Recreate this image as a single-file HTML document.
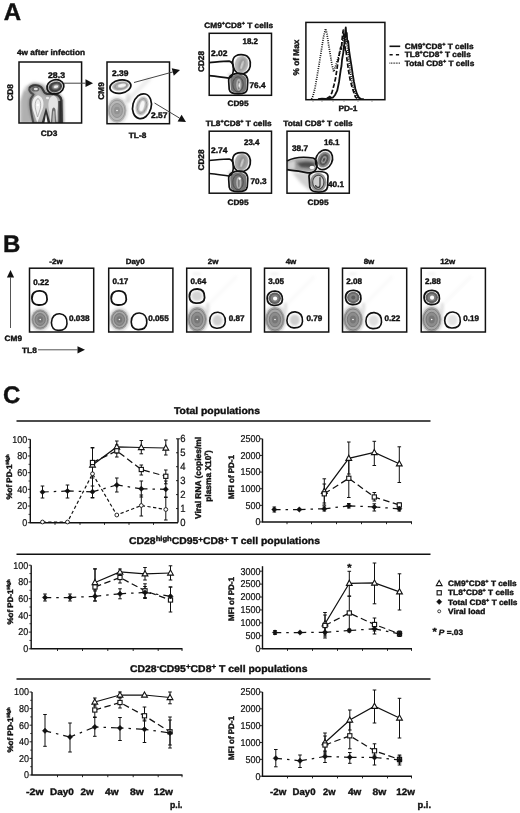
<!DOCTYPE html>
<html lang="en"><head><meta charset="utf-8"><title>Figure</title>
<style>html,body{margin:0;padding:0;background:#fff;}svg{display:block;font-family:'Liberation Sans', Arial, Helvetica, sans-serif;text-rendering:geometricPrecision;}</style></head><body>
<svg width="520" height="813" viewBox="0 0 520 813">
<defs>
<filter id="b05" x="-50%" y="-50%" width="200%" height="200%"><feGaussianBlur stdDeviation="0.5"/></filter>
<filter id="b1" x="-50%" y="-50%" width="200%" height="200%"><feGaussianBlur stdDeviation="1"/></filter>
<filter id="b2" x="-50%" y="-50%" width="200%" height="200%"><feGaussianBlur stdDeviation="1.8"/></filter>
<filter id="b3" x="-50%" y="-50%" width="200%" height="200%"><feGaussianBlur stdDeviation="3"/></filter>
</defs>
<rect x="0" y="0" width="520" height="813" fill="#fff"/>
<text xml:space="preserve" x="3.7" y="20" font-size="24" font-weight="bold" text-anchor="start" fill="#111" stroke="#111" stroke-width="0.4">A</text>
<text xml:space="preserve" x="0" y="0" font-size="8.3" font-weight="bold" text-anchor="start" fill="#111" stroke="#111" stroke-width="0.4" transform="translate(17 55.3) scale(1 0.94)" textLength="68" lengthAdjust="spacingAndGlyphs">4w after infection</text>
<clipPath id="c1"><rect x="19" y="62" width="62.599999999999994" height="61"/></clipPath>
<g clip-path="url(#c1)">
<path d="M21 123 L21.5 98 L25 87 L33 82.5 L44 84 L50 90 L58 93 L63.5 99 L64 123 Z" fill="#999" opacity="0.55" filter="url(#b2)"/>
<path d="M20 123 L20 102 L24 90 L30 94 L30 123 Z" fill="#999" opacity="0.5" filter="url(#b1)"/>
<path d="M33.5 123.5 C31.5 115 29.5 106 30.5 100 C31 97 33 96 33.5 94.5 C31 93 28.5 91 29.5 88 C31 84.8 38 84.3 41 87 C43 89 43.5 91.5 45 93 C47 94.5 50 94 52 94 C57 94 60.5 96 61.3 100 L61.8 123.5 Z" fill="#b4b4b4" stroke="#4a4a4a" stroke-width="2" stroke-linejoin="round" filter="url(#b05)"/>
<path d="M45 93 C47 94.5 50 94 52 94 C57 94 60.5 96 61.3 100 L61.8 123.5" fill="none" stroke="#222" stroke-width="2" filter="url(#b05)"/>
<path d="M29.5 88 C31 84.8 38 84.3 41 87 C43 89 43.5 91.5 45 93" fill="none" stroke="#222" stroke-width="1.6" filter="url(#b05)"/>
<path d="M33.5 123.5 C31.5 115 29.5 106 30.5 100 C31 97 33 96 33.5 94.5 C31 93 28.5 91 29.5 88 C31 84.8 38 84.3 41 87 C43 89 43.5 91.5 45 93 C47 94.5 50 94 52 94 C57 94 60.5 96 61.3 100 L61.8 123.5 Z" fill="none" stroke="#555" stroke-width="3.5" opacity="0.5" filter="url(#b1)"/>
<ellipse cx="35.3" cy="89" rx="4" ry="2.6" fill="#555" opacity="0.8" filter="url(#b05)"/>
<ellipse cx="35.8" cy="89" rx="2" ry="1.2" fill="#e8e8e8" opacity="0.95" filter="url(#b05)"/>
<path d="M38 95.3 C31.8 97 31 105 33.6 112 L37.3 122.5 L41.4 112 C45 105 44 97 38 95.3 Z" fill="#f2f2f2" opacity="0.95" filter="url(#b05)"/>
<path d="M38 98.5 C35 100 34.5 106 36 111 L37.5 117 L39.5 111 C41.5 106 41 100 38 98.5 Z" fill="none" stroke="#999" stroke-width="0.7" filter="url(#b05)"/>
<circle cx="37.8" cy="105" r="1.3" fill="#fff"/>
<path d="M53.5 95.5 C48 97 47.5 105 49.5 112 L50.5 123 L56 123 L57 112 C58.5 104 58.5 97 53.5 95.5 Z" fill="#e6e6e6" opacity="0.95" filter="url(#b05)"/>
<path d="M50.8 123.5 L52 110 C52.5 106.5 55 106.5 55.5 110 L56.2 123.5 Z" fill="#444" opacity="0.75" filter="url(#b05)"/>
<path d="M52.2 123.5 L53 112 C53.3 110 54.2 110 54.5 112 L55 123.5 Z" fill="#ccc" opacity="0.8" filter="url(#b05)"/>
<path d="M41.5 123.5 L46 107.5 L50.5 123.5 Z" fill="#222" opacity="0.9" filter="url(#b05)"/>
<path d="M44.3 123.5 L46 114 L47.8 123.5 Z" fill="#fff" opacity="0.95"/>
<path d="M58.3 123.5 L58.3 101 L61 101 L61.3 123.5 Z" fill="#222" opacity="0.8" filter="url(#b05)"/>
<ellipse cx="47.5" cy="98" rx="1.6" ry="1.2" fill="#eee" opacity="0.9"/>
<ellipse cx="55.4" cy="86.8" rx="7" ry="5.4" fill="#2a2a2a" opacity="0.9" filter="url(#b05)" transform="rotate(-15 55.4 86.8)"/>
<ellipse cx="55.8" cy="86.8" rx="4.2" ry="3" fill="#777" opacity="0.95" filter="url(#b05)" transform="rotate(-15 55.4 86.8)"/>
<ellipse cx="56" cy="86.8" rx="2.6" ry="1.6" fill="#f4f4f4" opacity="0.95" filter="url(#b05)" transform="rotate(-15 55.4 86.8)"/>
</g>
<rect x="19" y="62" width="62.599999999999994" height="61" fill="none" stroke="#111" stroke-width="1.5"/>
<ellipse cx="55.4" cy="86.8" rx="8.6" ry="7" fill="none" stroke="#111" stroke-width="1.7" transform="rotate(-15 55.4 86.8)"/>
<text xml:space="preserve" x="0" y="0" font-size="8.6" font-weight="bold" text-anchor="start" fill="#111" stroke="#111" stroke-width="0.4" transform="translate(48 77.5) scale(1 0.94)" textLength="17" lengthAdjust="spacingAndGlyphs">28.3</text>
<text xml:space="preserve" x="13" y="92.5" font-size="8.3" font-weight="bold" text-anchor="middle" fill="#111" stroke="#111" stroke-width="0.4" transform="rotate(-90 13 92.5)">CD8</text>
<text xml:space="preserve" x="0" y="0" font-size="8.3" font-weight="bold" text-anchor="middle" fill="#111" stroke="#111" stroke-width="0.4" transform="translate(49 136) scale(1 0.94)">CD3</text>
<line x1="64" y1="83.2" x2="85.50" y2="83.20" stroke="#444" stroke-width="1"/>
<polygon points="93.00,83.20 85.50,87.10 85.50,79.30" fill="#111"/>
<clipPath id="c2"><rect x="107" y="62" width="62.5" height="61.7"/></clipPath>
<g clip-path="url(#c2)">
<g opacity="0.8">
<ellipse cx="117" cy="110.5" rx="11.20" ry="14.00" fill="#bbb" opacity="0.55" filter="url(#b1)" transform="rotate(0 117 110.5)"/>
<ellipse cx="117" cy="110.5" rx="9.50" ry="12.16" fill="#a6a6a6" filter="url(#b05)" transform="rotate(0 117 110.5)"/>
<ellipse cx="117" cy="110.5" rx="8.00" ry="10.24" fill="none" stroke="#7a7a7a" stroke-width="0.9" filter="url(#b05)" transform="rotate(0 117 110.5)"/>
<ellipse cx="117" cy="110.5" rx="5.50" ry="7.04" fill="#8c8c8c" stroke="#6a6a6a" stroke-width="0.7" filter="url(#b05)" transform="rotate(0 117 110.5)"/>
<ellipse cx="117" cy="110.5" rx="3.00" ry="3.84" fill="#777" filter="url(#b05)" transform="rotate(0 117 110.5)"/>
<ellipse cx="117" cy="110.5" rx="0.8" ry="0.8" fill="#fff" opacity="0.95"/>
</g>
<ellipse cx="120.5" cy="86" rx="8.5" ry="4.6" fill="#999" opacity="0.75" filter="url(#b05)" transform="rotate(-10 120.5 86)"/>
<ellipse cx="121" cy="86" rx="6.2" ry="3" fill="none" stroke="#777" stroke-width="0.7" filter="url(#b05)" transform="rotate(-10 120.5 86)"/>
<ellipse cx="122" cy="85.8" rx="4" ry="1.8" fill="#fafafa" opacity="0.95" filter="url(#b05)" transform="rotate(-10 120.5 86)"/>
<ellipse cx="142" cy="106" rx="6.2" ry="9.8" fill="#aaa" opacity="0.7" filter="url(#b05)" transform="rotate(15 142 106)"/>
<ellipse cx="142" cy="106" rx="4.3" ry="7.5" fill="none" stroke="#777" stroke-width="0.7" filter="url(#b05)" transform="rotate(15 142 106)"/>
<ellipse cx="142" cy="106" rx="2.2" ry="5.2" fill="#fafafa" opacity="0.95" filter="url(#b05)" transform="rotate(15 142 106)"/>
<line x1="126" y1="102" x2="150" y2="78" stroke="#aaa" stroke-width="4" opacity="0.22" filter="url(#b2)"/>
<ellipse cx="128" cy="98" rx="2.5" ry="5" fill="#aaa" opacity="0.3" filter="url(#b1)"/>
</g>
<rect x="107" y="62" width="62.5" height="61.7" fill="none" stroke="#111" stroke-width="1.5"/>
<ellipse cx="120.4" cy="86.6" rx="10.6" ry="6.6" fill="none" stroke="#111" stroke-width="1.7" transform="rotate(-10 120.4 86.6)"/>
<ellipse cx="142" cy="106.2" rx="9.2" ry="12.6" fill="none" stroke="#111" stroke-width="1.7" transform="rotate(15 142 106.2)"/>
<text xml:space="preserve" x="0" y="0" font-size="8.6" font-weight="bold" text-anchor="start" fill="#111" stroke="#111" stroke-width="0.4" transform="translate(112 75.5) scale(1 0.94)" textLength="16.5" lengthAdjust="spacingAndGlyphs">2.39</text>
<text xml:space="preserve" x="0" y="0" font-size="8.6" font-weight="bold" text-anchor="start" fill="#111" stroke="#111" stroke-width="0.4" transform="translate(151 118) scale(1 0.94)" textLength="16.5" lengthAdjust="spacingAndGlyphs">2.57</text>
<text xml:space="preserve" x="103.5" y="91" font-size="8.3" font-weight="bold" text-anchor="middle" fill="#111" stroke="#111" stroke-width="0.4" transform="rotate(-90 103.5 91)">CM9</text>
<text xml:space="preserve" x="0" y="0" font-size="8.3" font-weight="bold" text-anchor="middle" fill="#111" stroke="#111" stroke-width="0.4" transform="translate(137.5 137.5) scale(1 0.94)">TL-8</text>
<line x1="134" y1="82.5" x2="172.76" y2="71.97" stroke="#444" stroke-width="1"/>
<polygon points="180.00,70.00 173.79,75.73 171.74,68.20" fill="#111"/>
<line x1="154.5" y1="103" x2="179.58" y2="118.13" stroke="#444" stroke-width="1"/>
<polygon points="186.00,122.00 177.56,121.47 181.59,114.79" fill="#111"/>
<clipPath id="c3"><rect x="209.2" y="33.3" width="62.30000000000001" height="62.0"/></clipPath>
<g clip-path="url(#c3)">
<ellipse cx="241.5" cy="64.3" rx="6.8" ry="8.6" fill="#b0b0b0" opacity="0.9" filter="url(#b05)" transform="rotate(12 241.5 64.3)"/>
<ellipse cx="242.0" cy="64.3" rx="3.4" ry="6.6" fill="#777" opacity="0.6" filter="url(#b1)" transform="rotate(18 241.5 64.3)"/>
<ellipse cx="242.3" cy="64.8" rx="1.2" ry="4.5" fill="#ddd" opacity="0.8" filter="url(#b05)" transform="rotate(18 241.5 64.3)"/>
<path d="M230.2 80.3 C230.2 75.8 234.2 74.8 238.7 74.8 C243.2 74.8 246.7 76.3 246.39999999999998 81.3 L246.0 89.3 C245.2 94.3 231.7 94.3 230.7 89.3 Z" fill="#6e6e6e" opacity="0.95" filter="url(#b05)"/>
<ellipse cx="238.0" cy="84.3" rx="5.2" ry="7.5" fill="none" stroke="#444" stroke-width="1" opacity="0.8" filter="url(#b05)"/>
<ellipse cx="238.8" cy="84.8" rx="2.6" ry="6" fill="#b8b8b8" opacity="0.9" filter="url(#b05)"/>
<ellipse cx="238.8" cy="85.3" rx="0.9" ry="4.2" fill="#777" opacity="0.9" filter="url(#b05)"/>
<ellipse cx="239.2" cy="85.3" rx="0.7" ry="2.5" fill="#f4f4f4"/>
<ellipse cx="230.2" cy="75.3" rx="2.5" ry="2.5" fill="#999" opacity="0.3" filter="url(#b1)"/>
</g>
<rect x="209.2" y="33.3" width="62.30000000000001" height="62.0" fill="none" stroke="#111" stroke-width="1.5"/>
<path d="M209.2 62.599999999999994 C217.2 61.9 224.2 61.099999999999994 229.2 61.099999999999994 C232.7 61.8 233.7 66.3 233.2 71.3 C232.7 75.3 231.2 77.8 228.7 78.1 C222.2 77.3 216.2 76.3 209.2 75.6" fill="none" stroke="#111" stroke-width="1.6"/>
<path d="M232.7 63.3 C232.2 55.3 238.2 54.3 243.2 54.8 C249.2 55.3 251.2 61.3 250.2 66.3 C249.2 71.3 245.2 73.8 240.2 73.8 C235.2 73.3 233.2 69.3 232.7 63.3 Z" fill="none" stroke="#111" stroke-width="1.7"/>
<path d="M228.7 81.3 C228.2 75.3 233.2 73.3 239.2 73.3 C245.2 73.3 248.2 76.3 247.7 82.3 L247.2 89.3 C246.2 95.3 230.2 95.3 229.2 89.3 Z" fill="none" stroke="#111" stroke-width="1.7"/>
<text xml:space="preserve" x="0" y="0" font-size="8.3" font-weight="bold" text-anchor="middle" fill="#111" stroke="#111" stroke-width="0.4" transform="translate(238.7 28) scale(1 0.94)">CM9<tspan dy="-3" font-size="5.5">+</tspan><tspan dy="3">CD8</tspan><tspan dy="-3" font-size="5.5">+</tspan><tspan dy="3"> T cells</tspan></text>
<text xml:space="preserve" x="0" y="0" font-size="8.6" font-weight="bold" text-anchor="start" fill="#111" stroke="#111" stroke-width="0.4" transform="translate(242.5 44) scale(1 0.94)" textLength="15.5" lengthAdjust="spacingAndGlyphs">18.2</text>
<text xml:space="preserve" x="0" y="0" font-size="8.6" font-weight="bold" text-anchor="start" fill="#111" stroke="#111" stroke-width="0.4" transform="translate(211 56) scale(1 0.94)" textLength="16.5" lengthAdjust="spacingAndGlyphs">2.02</text>
<text xml:space="preserve" x="0" y="0" font-size="8.6" font-weight="bold" text-anchor="start" fill="#111" stroke="#111" stroke-width="0.4" transform="translate(249.5 88) scale(1 0.94)" textLength="16" lengthAdjust="spacingAndGlyphs">76.4</text>
<text xml:space="preserve" x="204" y="61.5" font-size="8.3" font-weight="bold" text-anchor="middle" fill="#111" stroke="#111" stroke-width="0.4" transform="rotate(-90 204 61.5)">CD28</text>
<text xml:space="preserve" x="0" y="0" font-size="8.3" font-weight="bold" text-anchor="middle" fill="#111" stroke="#111" stroke-width="0.4" transform="translate(238 106) scale(1 0.94)">CD95</text>
<clipPath id="c4"><rect x="209.2" y="131.2" width="62.30000000000001" height="62.0"/></clipPath>
<g clip-path="url(#c4)">
<ellipse cx="241.5" cy="162.2" rx="6.8" ry="8.6" fill="#a0a0a0" opacity="0.9" filter="url(#b05)" transform="rotate(12 241.5 162.2)"/>
<ellipse cx="242.0" cy="162.2" rx="3.4" ry="6.6" fill="#777" opacity="0.6" filter="url(#b1)" transform="rotate(18 241.5 162.2)"/>
<ellipse cx="242.3" cy="162.7" rx="1.2" ry="4.5" fill="#ddd" opacity="0.8" filter="url(#b05)" transform="rotate(18 241.5 162.2)"/>
<path d="M230.2 178.2 C230.2 173.7 234.2 172.7 238.7 172.7 C243.2 172.7 246.7 174.2 246.39999999999998 179.2 L246.0 187.2 C245.2 192.2 231.7 192.2 230.7 187.2 Z" fill="#6e6e6e" opacity="0.95" filter="url(#b05)"/>
<ellipse cx="238.0" cy="182.2" rx="5.2" ry="7.5" fill="none" stroke="#444" stroke-width="1" opacity="0.8" filter="url(#b05)"/>
<ellipse cx="238.8" cy="182.7" rx="2.6" ry="6" fill="#b8b8b8" opacity="0.9" filter="url(#b05)"/>
<ellipse cx="238.8" cy="183.2" rx="0.9" ry="4.2" fill="#777" opacity="0.9" filter="url(#b05)"/>
<circle cx="239.7" cy="178.7" r="1.1" fill="#fff"/>
<ellipse cx="230.2" cy="173.2" rx="2.5" ry="2.5" fill="#999" opacity="0.3" filter="url(#b1)"/>
</g>
<rect x="209.2" y="131.2" width="62.30000000000001" height="62.0" fill="none" stroke="#111" stroke-width="1.5"/>
<path d="M209.2 160.5 C217.2 159.79999999999998 224.2 159.0 229.2 159.0 C232.7 159.7 233.7 164.2 233.2 169.2 C232.7 173.2 231.2 175.7 228.7 176.0 C222.2 175.2 216.2 174.2 209.2 173.5" fill="none" stroke="#111" stroke-width="1.6"/>
<path d="M232.7 161.2 C232.2 153.2 238.2 152.2 243.2 152.7 C249.2 153.2 251.2 159.2 250.2 164.2 C249.2 169.2 245.2 171.7 240.2 171.7 C235.2 171.2 233.2 167.2 232.7 161.2 Z" fill="none" stroke="#111" stroke-width="1.7"/>
<path d="M228.7 179.2 C228.2 173.2 233.2 171.2 239.2 171.2 C245.2 171.2 248.2 174.2 247.7 180.2 L247.2 187.2 C246.2 193.2 230.2 193.2 229.2 187.2 Z" fill="none" stroke="#111" stroke-width="1.7"/>
<text xml:space="preserve" x="0" y="0" font-size="8.3" font-weight="bold" text-anchor="middle" fill="#111" stroke="#111" stroke-width="0.4" transform="translate(238.7 125.5) scale(1 0.94)">TL8<tspan dy="-3" font-size="5.5">+</tspan><tspan dy="3">CD8</tspan><tspan dy="-3" font-size="5.5">+</tspan><tspan dy="3"> T cells</tspan></text>
<text xml:space="preserve" x="0" y="0" font-size="8.6" font-weight="bold" text-anchor="start" fill="#111" stroke="#111" stroke-width="0.4" transform="translate(244 144.5) scale(1 0.94)" textLength="15.5" lengthAdjust="spacingAndGlyphs">23.4</text>
<text xml:space="preserve" x="0" y="0" font-size="8.6" font-weight="bold" text-anchor="start" fill="#111" stroke="#111" stroke-width="0.4" transform="translate(211 153) scale(1 0.94)" textLength="16.5" lengthAdjust="spacingAndGlyphs">2.74</text>
<text xml:space="preserve" x="0" y="0" font-size="8.6" font-weight="bold" text-anchor="start" fill="#111" stroke="#111" stroke-width="0.4" transform="translate(250.5 184) scale(1 0.94)" textLength="16" lengthAdjust="spacingAndGlyphs">70.3</text>
<text xml:space="preserve" x="204" y="160" font-size="8.3" font-weight="bold" text-anchor="middle" fill="#111" stroke="#111" stroke-width="0.4" transform="rotate(-90 204 160)">CD28</text>
<text xml:space="preserve" x="0" y="0" font-size="8.3" font-weight="bold" text-anchor="middle" fill="#111" stroke="#111" stroke-width="0.4" transform="translate(238 204.5) scale(1 0.94)">CD95</text>
<clipPath id="c5"><rect x="287" y="131.2" width="62.30000000000001" height="62.0"/></clipPath>
<g clip-path="url(#c5)">
<path d="M287 161.2 C297 157.2 309 157.2 315 159.2 L316 169.2 L309 172.2 L287 169.7 Z" fill="#8a8a8a" opacity="0.8" filter="url(#b1)"/>
<path d="M297 163.2 C303 161.2 311 161.2 315 163.2 L314 168.2 L301 167.2 Z" fill="#333" opacity="0.75" filter="url(#b1)"/>
<path d="M288 162.2 L295 160.2 L295 169.2 L288 169.2 Z" fill="#fff" opacity="0.55" filter="url(#b1)"/>
<path d="M292 172.2 L312 173.2 L310 191.2 L301 183.2 Z" fill="#999" opacity="0.45" filter="url(#b2)"/>
<ellipse cx="312" cy="167.5" rx="2.4" ry="1.7" fill="#fff" opacity="0.95" filter="url(#b05)"/>
<ellipse cx="324" cy="159.7" rx="6.3" ry="8.3" fill="#777" opacity="0.9" filter="url(#b05)" transform="rotate(25 324 159.7)"/>
<ellipse cx="324" cy="159.7" rx="4" ry="6" fill="#444" opacity="0.85" filter="url(#b05)" transform="rotate(25 324 159.7)"/>
<ellipse cx="324" cy="159.7" rx="2.2" ry="4" fill="#aaa" opacity="0.9" filter="url(#b05)" transform="rotate(25 324 159.7)"/>
<ellipse cx="324" cy="159.7" rx="0.9" ry="2.2" fill="#333" opacity="0.9" filter="url(#b05)" transform="rotate(25 324 159.7)"/>
<ellipse cx="318.3" cy="182.2" rx="8" ry="9.5" fill="#8a8a8a" opacity="0.9" filter="url(#b05)"/>
<ellipse cx="318.3" cy="182.2" rx="5.6" ry="7" fill="#d0d0d0" stroke="#444" stroke-width="1.1" opacity="0.95" filter="url(#b05)"/>
<path d="M320 177.2 L320 185.2 C320 188.2 316 188.2 315.5 185.2" fill="none" stroke="#333" stroke-width="1.2" filter="url(#b05)"/>
</g>
<rect x="287" y="131.2" width="62.30000000000001" height="62.0" fill="none" stroke="#111" stroke-width="1.5"/>
<path d="M287 161.0 C293 157.7 303 156.5 313 158.0 C317 159.2 318 165.2 316 169.2 C314 172.7 311 173.2 308 172.79999999999998 C301 171.7 294 170.5 287 169.7" fill="none" stroke="#111" stroke-width="1.7"/>
<ellipse cx="324" cy="159.79999999999998" rx="8.2" ry="10.2" fill="none" stroke="#111" stroke-width="1.7" transform="rotate(25 324 159.79999999999998)"/>
<path d="M309 176.2 C309 170.2 327.5 169.7 328 176.2 L327.5 187.2 C326.5 193.7 311 193.7 309.8 187.2 Z" fill="none" stroke="#111" stroke-width="1.7"/>
<text xml:space="preserve" x="0" y="0" font-size="8.3" font-weight="bold" text-anchor="middle" fill="#111" stroke="#111" stroke-width="0.4" transform="translate(318 125.5) scale(1 0.94)">Total CD8<tspan dy="-3" font-size="5.5">+</tspan><tspan dy="3"> T cells</tspan></text>
<text xml:space="preserve" x="0" y="0" font-size="8.6" font-weight="bold" text-anchor="start" fill="#111" stroke="#111" stroke-width="0.4" transform="translate(292 151) scale(1 0.94)" textLength="16" lengthAdjust="spacingAndGlyphs">38.7</text>
<text xml:space="preserve" x="0" y="0" font-size="8.6" font-weight="bold" text-anchor="start" fill="#111" stroke="#111" stroke-width="0.4" transform="translate(324 145) scale(1 0.94)" textLength="15.5" lengthAdjust="spacingAndGlyphs">16.1</text>
<text xml:space="preserve" x="0" y="0" font-size="8.6" font-weight="bold" text-anchor="start" fill="#111" stroke="#111" stroke-width="0.4" transform="translate(328 187) scale(1 0.94)" textLength="16" lengthAdjust="spacingAndGlyphs">40.1</text>
<text xml:space="preserve" x="0" y="0" font-size="8.3" font-weight="bold" text-anchor="middle" fill="#111" stroke="#111" stroke-width="0.4" transform="translate(318 204.5) scale(1 0.94)">CD95</text>
<clipPath id="ch"><rect x="305.9" y="22.4" width="79.0" height="77.30000000000001"/></clipPath>
<g clip-path="url(#ch)" fill="none" stroke-linejoin="round">
<path d="M311.5 99 L313 96 L315 88 L317.3 75 L319.5 62 L321.6 49 L323.5 37 L325.6 28.7 L327 34 L328.5 44 L330 53 L332 64.7 L333.7 71.6 L335.3 67 L337.2 61 L339 55 L340.7 49 L342 44 L343.5 38 L345 36 L346.5 42 L348 52 L350 70 L352 82 L354 90 L356 95.5 L358.8 99" stroke="#111" stroke-width="1.7" stroke-dasharray="1 1.2"/>
<path d="M326.8 98.5 L330 96.5 L332 92.4 L334 85 L335.5 78.5 L337 69 L338 61 L339 57 L339.6 52 L340.7 47.4 L341.4 49 L342 40 L342.8 33 L343.3 30 L344 38 L344.6 35 L345.3 51 L346 50 L346.8 58 L348.4 70 L350 79 L352 87 L354 93 L355.4 97 L357 98.5" stroke="#111" stroke-width="1.7" stroke-dasharray="4.5 2"/>
<path d="M318 99.2 L322 98.6 L326 99 L330 98 L333 97.5 L335 95 L337.2 90.7 L339 82 L340.7 70 L341.5 66 L342 60 L343.3 52.6 L343.8 46 L344.2 48 L344.6 35 L345 38 L345.4 30 L345.8 27.5 L346.3 36 L346.8 33 L347.2 40 L347.6 42 L348.2 41 L349 50 L350.2 57.8 L351.5 66 L352.8 75 L354 82 L355.4 89 L357 94 L358.8 97.5 L361 99 L364 99.3" stroke="#111" stroke-width="1.8"/>
</g>
<rect x="305.9" y="22.4" width="79.0" height="77.30000000000001" fill="none" stroke="#111" stroke-width="1.5"/>
<line x1="313" y1="100.5" x2="313" y2="102" stroke="#666" stroke-width="0.6"/>
<line x1="322" y1="100.5" x2="322" y2="102" stroke="#666" stroke-width="0.6"/>
<line x1="333" y1="100.5" x2="333" y2="102" stroke="#666" stroke-width="0.6"/>
<line x1="344" y1="100.5" x2="344" y2="102" stroke="#666" stroke-width="0.6"/>
<line x1="358" y1="100.5" x2="358" y2="102" stroke="#666" stroke-width="0.6"/>
<line x1="372" y1="100.5" x2="372" y2="102" stroke="#666" stroke-width="0.6"/>
<text xml:space="preserve" x="299" y="57.5" font-size="8.3" font-weight="bold" text-anchor="middle" fill="#111" stroke="#111" stroke-width="0.4" transform="rotate(-90 299 57.5)">% of Max</text>
<text xml:space="preserve" x="0" y="0" font-size="8.3" font-weight="bold" text-anchor="middle" fill="#111" stroke="#111" stroke-width="0.4" transform="translate(348 110.5) scale(1 0.94)">PD-1</text>
<line x1="389.5" y1="46.3" x2="400.2" y2="46.3" stroke="#111" stroke-width="1.6"/>
<line x1="389.5" y1="54.8" x2="400.2" y2="54.8" stroke="#111" stroke-width="1.6" stroke-dasharray="3.2 3.2"/>
<line x1="389.5" y1="63.2" x2="400.2" y2="63.2" stroke="#111" stroke-width="1.2" stroke-dasharray="0.8 0.8"/>
<text xml:space="preserve" x="0" y="0" font-size="8.3" font-weight="bold" text-anchor="start" fill="#111" stroke="#111" stroke-width="0.4" transform="translate(404.8 48.8) scale(1 0.94)">CM9<tspan dy="-3" font-size="5.5">+</tspan><tspan dy="3">CD8</tspan><tspan dy="-3" font-size="5.5">+</tspan><tspan dy="3"> T cells</tspan></text>
<text xml:space="preserve" x="0" y="0" font-size="8.3" font-weight="bold" text-anchor="start" fill="#111" stroke="#111" stroke-width="0.4" transform="translate(404.8 57.3) scale(1 0.94)">TL8<tspan dy="-3" font-size="5.5">+</tspan><tspan dy="3">CD8</tspan><tspan dy="-3" font-size="5.5">+</tspan><tspan dy="3"> T cells</tspan></text>
<text xml:space="preserve" x="0" y="0" font-size="8.3" font-weight="bold" text-anchor="start" fill="#111" stroke="#111" stroke-width="0.4" transform="translate(404.8 65.8) scale(1 0.94)">Total CD8<tspan dy="-3" font-size="5.5">+</tspan><tspan dy="3"> T cells</tspan></text>
<text xml:space="preserve" x="3" y="252" font-size="24" font-weight="bold" text-anchor="start" fill="#111" stroke="#111" stroke-width="0.4">B</text>
<clipPath id="cb0"><rect x="29.5" y="268.2" width="64.2" height="63.80000000000001"/></clipPath>
<g clip-path="url(#cb0)">
<g opacity="1.0">
<ellipse cx="40.2" cy="319.5" rx="10.60" ry="12.00" fill="#bbb" opacity="0.55" filter="url(#b1)" transform="rotate(0 40.2 319.5)"/>
<ellipse cx="40.2" cy="319.5" rx="8.93" ry="10.26" fill="#a6a6a6" filter="url(#b05)" transform="rotate(0 40.2 319.5)"/>
<ellipse cx="40.2" cy="319.5" rx="7.52" ry="8.64" fill="none" stroke="#7a7a7a" stroke-width="0.9" filter="url(#b05)" transform="rotate(0 40.2 319.5)"/>
<ellipse cx="40.2" cy="319.5" rx="5.17" ry="5.94" fill="#8c8c8c" stroke="#6a6a6a" stroke-width="0.7" filter="url(#b05)" transform="rotate(0 40.2 319.5)"/>
<ellipse cx="40.2" cy="319.5" rx="2.82" ry="3.24" fill="#777" filter="url(#b05)" transform="rotate(0 40.2 319.5)"/>
<ellipse cx="40.2" cy="319.5" rx="0.8" ry="0.8" fill="#fff" opacity="0.95"/>
</g>
</g>
<rect x="29.5" y="268.2" width="64.2" height="63.80000000000001" fill="none" stroke="#111" stroke-width="1.5"/>
<path d="M31.9 298.5 C31.7 293.0 35.5 290.7 40.0 290.9 C45.0 291.1 47.3 294.5 47.1 299.5 C46.8 304.0 43.5 305.2 38.5 305.0 C34.5 304.8 32.1 302.5 31.9 298.5 Z" fill="none" stroke="#111" stroke-width="1.8"/>
<path d="M51.4 322.7 C51.4 316.7 55.2 313.6 59.7 313.8 C64.7 314.2 67.2 318.2 67.0 323.7 C66.6 328.7 63.2 330.6 58.2 330.4 C54.2 330.2 51.6 327.2 51.4 322.7 Z" fill="none" stroke="#111" stroke-width="1.6"/>
<text xml:space="preserve" x="0" y="0" font-size="8" font-weight="bold" text-anchor="middle" fill="#111" stroke="#111" stroke-width="0.4" transform="translate(56.0 264.3) scale(1 0.94)">-2w</text>
<text xml:space="preserve" x="0" y="0" font-size="8.6" font-weight="bold" text-anchor="start" fill="#111" stroke="#111" stroke-width="0.4" transform="translate(33.3 284.8) scale(1 0.94)" textLength="15.8" lengthAdjust="spacingAndGlyphs">0.22</text>
<text xml:space="preserve" x="0" y="0" font-size="8.6" font-weight="bold" text-anchor="start" fill="#111" stroke="#111" stroke-width="0.4" transform="translate(69.0 321.2) scale(1 0.94)" textLength="20.5" lengthAdjust="spacingAndGlyphs">0.038</text>
<clipPath id="cb1"><rect x="108.7" y="268.2" width="64.2" height="63.80000000000001"/></clipPath>
<g clip-path="url(#cb1)">
<g opacity="1.0">
<ellipse cx="119.4" cy="319.5" rx="10.60" ry="12.00" fill="#bbb" opacity="0.55" filter="url(#b1)" transform="rotate(0 119.4 319.5)"/>
<ellipse cx="119.4" cy="319.5" rx="8.93" ry="10.26" fill="#a6a6a6" filter="url(#b05)" transform="rotate(0 119.4 319.5)"/>
<ellipse cx="119.4" cy="319.5" rx="7.52" ry="8.64" fill="none" stroke="#7a7a7a" stroke-width="0.9" filter="url(#b05)" transform="rotate(0 119.4 319.5)"/>
<ellipse cx="119.4" cy="319.5" rx="5.17" ry="5.94" fill="#8c8c8c" stroke="#6a6a6a" stroke-width="0.7" filter="url(#b05)" transform="rotate(0 119.4 319.5)"/>
<ellipse cx="119.4" cy="319.5" rx="2.82" ry="3.24" fill="#777" filter="url(#b05)" transform="rotate(0 119.4 319.5)"/>
<ellipse cx="119.4" cy="319.5" rx="0.8" ry="0.8" fill="#fff" opacity="0.95"/>
</g>
</g>
<rect x="108.7" y="268.2" width="64.2" height="63.80000000000001" fill="none" stroke="#111" stroke-width="1.5"/>
<path d="M111.2 298.5 C111.0 293.0 114.8 290.7 119.2 290.9 C124.2 291.1 126.5 294.5 126.3 299.5 C126.0 304.0 122.8 305.2 117.8 305.0 C113.8 304.8 111.3 302.5 111.2 298.5 Z" fill="none" stroke="#111" stroke-width="1.8"/>
<path d="M131.2 321.9 C131.2 315.9 135.0 312.8 139.5 313.0 C144.5 313.4 147.0 317.4 146.8 322.9 C146.4 327.9 143.0 329.8 138.0 329.6 C134.0 329.4 131.4 326.4 131.2 321.9 Z" fill="none" stroke="#111" stroke-width="1.6"/>
<text xml:space="preserve" x="0" y="0" font-size="8" font-weight="bold" text-anchor="middle" fill="#111" stroke="#111" stroke-width="0.4" transform="translate(135.2 264.3) scale(1 0.94)">Day0</text>
<text xml:space="preserve" x="0" y="0" font-size="8.6" font-weight="bold" text-anchor="start" fill="#111" stroke="#111" stroke-width="0.4" transform="translate(112.5 284.3) scale(1 0.94)" textLength="15.8" lengthAdjust="spacingAndGlyphs">0.17</text>
<text xml:space="preserve" x="0" y="0" font-size="8.6" font-weight="bold" text-anchor="start" fill="#111" stroke="#111" stroke-width="0.4" transform="translate(148.2 321.2) scale(1 0.94)" textLength="20.5" lengthAdjust="spacingAndGlyphs">0.055</text>
<clipPath id="cb2"><rect x="186.7" y="268.2" width="64.19999999999999" height="63.80000000000001"/></clipPath>
<g clip-path="url(#cb2)">
<g opacity="1.0">
<ellipse cx="197.2" cy="319.5" rx="11.50" ry="14.40" fill="#bbb" opacity="0.55" filter="url(#b1)" transform="rotate(0 197.2 319.5)"/>
<ellipse cx="197.2" cy="319.5" rx="9.79" ry="12.54" fill="#a6a6a6" filter="url(#b05)" transform="rotate(0 197.2 319.5)"/>
<ellipse cx="197.2" cy="319.5" rx="8.24" ry="10.56" fill="none" stroke="#7a7a7a" stroke-width="0.9" filter="url(#b05)" transform="rotate(0 197.2 319.5)"/>
<ellipse cx="197.2" cy="319.5" rx="5.67" ry="7.26" fill="#8c8c8c" stroke="#6a6a6a" stroke-width="0.7" filter="url(#b05)" transform="rotate(0 197.2 319.5)"/>
<ellipse cx="197.2" cy="319.5" rx="3.09" ry="3.96" fill="#777" filter="url(#b05)" transform="rotate(0 197.2 319.5)"/>
<ellipse cx="197.2" cy="319.5" rx="0.8" ry="0.8" fill="#fff" opacity="0.95"/>
</g>
<ellipse cx="197.0" cy="296.09999999999997" rx="5.5" ry="5" fill="#888" opacity="0.35" filter="url(#b1)"/>
<ellipse cx="217.5" cy="320.3" rx="5" ry="5.5" fill="#777" opacity="0.35" filter="url(#b1)"/>
<line x1="204.7" y1="308.2" x2="236.7" y2="276.2" stroke="#999" stroke-width="3" opacity="0.06" filter="url(#b2)"/>
<ellipse cx="196.7" cy="273.7" rx="4.5" ry="1.8" fill="#999" opacity="0.10" filter="url(#b1)"/>
<ellipse cx="207.7" cy="308.2" rx="2" ry="6" fill="#999" opacity="0.25" filter="url(#b1)"/>
</g>
<rect x="186.7" y="268.2" width="64.19999999999999" height="63.80000000000001" fill="none" stroke="#111" stroke-width="1.5"/>
<path d="M189.4 296.6 C189.2 291.1 193.0 288.8 197.5 289.0 C202.5 289.2 204.8 292.6 204.6 297.6 C204.3 302.1 201.0 303.3 196.0 303.1 C192.0 302.9 189.6 300.6 189.4 296.6 Z" fill="none" stroke="#111" stroke-width="1.8"/>
<path d="M209.7 320.8 C209.7 315.0 213.5 312.0 218.0 312.2 C223.0 312.6 225.5 316.3 225.3 321.8 C224.9 326.5 221.5 328.4 216.5 328.2 C212.5 328.0 209.9 325.3 209.7 320.8 Z" fill="none" stroke="#111" stroke-width="1.6"/>
<text xml:space="preserve" x="0" y="0" font-size="8" font-weight="bold" text-anchor="middle" fill="#111" stroke="#111" stroke-width="0.4" transform="translate(213.2 264.3) scale(1 0.94)">2w</text>
<text xml:space="preserve" x="0" y="0" font-size="8.6" font-weight="bold" text-anchor="start" fill="#111" stroke="#111" stroke-width="0.4" transform="translate(190.5 283.7) scale(1 0.94)" textLength="15.8" lengthAdjust="spacingAndGlyphs">0.64</text>
<text xml:space="preserve" x="0" y="0" font-size="8.6" font-weight="bold" text-anchor="start" fill="#111" stroke="#111" stroke-width="0.4" transform="translate(228.7 321.2) scale(1 0.94)" textLength="15.8" lengthAdjust="spacingAndGlyphs">0.87</text>
<clipPath id="cb3"><rect x="264.5" y="268.2" width="64.19999999999999" height="63.80000000000001"/></clipPath>
<g clip-path="url(#cb3)">
<g opacity="1.0">
<ellipse cx="275.0" cy="319.5" rx="11.50" ry="14.40" fill="#bbb" opacity="0.55" filter="url(#b1)" transform="rotate(0 275.0 319.5)"/>
<ellipse cx="275.0" cy="319.5" rx="9.79" ry="12.54" fill="#a6a6a6" filter="url(#b05)" transform="rotate(0 275.0 319.5)"/>
<ellipse cx="275.0" cy="319.5" rx="8.24" ry="10.56" fill="none" stroke="#7a7a7a" stroke-width="0.9" filter="url(#b05)" transform="rotate(0 275.0 319.5)"/>
<ellipse cx="275.0" cy="319.5" rx="5.67" ry="7.26" fill="#8c8c8c" stroke="#6a6a6a" stroke-width="0.7" filter="url(#b05)" transform="rotate(0 275.0 319.5)"/>
<ellipse cx="275.0" cy="319.5" rx="3.09" ry="3.96" fill="#777" filter="url(#b05)" transform="rotate(0 275.0 319.5)"/>
<ellipse cx="275.0" cy="319.5" rx="0.8" ry="0.8" fill="#fff" opacity="0.95"/>
</g>
<ellipse cx="274.8" cy="298.3" rx="6.2" ry="5.8" fill="#444" opacity="0.85" filter="url(#b05)"/>
<ellipse cx="274.8" cy="298.3" rx="4" ry="3.8" fill="#888" opacity="0.8" filter="url(#b05)"/>
<ellipse cx="275.1" cy="298.5" rx="2.1" ry="2.1" fill="#fff" opacity="0.98" filter="url(#b05)"/>
<ellipse cx="294.7" cy="320.0" rx="5" ry="5.5" fill="#777" opacity="0.35" filter="url(#b1)"/>
<line x1="282.5" y1="308.2" x2="314.5" y2="276.2" stroke="#999" stroke-width="3" opacity="0.06" filter="url(#b2)"/>
<ellipse cx="274.5" cy="273.7" rx="4.5" ry="1.8" fill="#999" opacity="0.10" filter="url(#b1)"/>
<ellipse cx="285.5" cy="308.2" rx="2" ry="6" fill="#999" opacity="0.25" filter="url(#b1)"/>
</g>
<rect x="264.5" y="268.2" width="64.19999999999999" height="63.80000000000001" fill="none" stroke="#111" stroke-width="1.5"/>
<path d="M267.2 298.8 C267.0 293.3 270.8 291.0 275.3 291.2 C280.3 291.4 282.6 294.8 282.4 299.8 C282.1 304.3 278.8 305.5 273.8 305.3 C269.8 305.1 267.4 302.8 267.2 298.8 Z" fill="none" stroke="#111" stroke-width="1.8"/>
<path d="M286.9 320.5 C286.9 314.7 290.7 311.7 295.2 311.9 C300.2 312.3 302.7 316.0 302.5 321.5 C302.1 326.2 298.7 328.1 293.7 327.9 C289.7 327.7 287.1 325.0 286.9 320.5 Z" fill="none" stroke="#111" stroke-width="1.6"/>
<text xml:space="preserve" x="0" y="0" font-size="8" font-weight="bold" text-anchor="middle" fill="#111" stroke="#111" stroke-width="0.4" transform="translate(291.0 264.3) scale(1 0.94)">4w</text>
<text xml:space="preserve" x="0" y="0" font-size="8.6" font-weight="bold" text-anchor="start" fill="#111" stroke="#111" stroke-width="0.4" transform="translate(268.3 284.4) scale(1 0.94)" textLength="15.8" lengthAdjust="spacingAndGlyphs">3.05</text>
<text xml:space="preserve" x="0" y="0" font-size="8.6" font-weight="bold" text-anchor="start" fill="#111" stroke="#111" stroke-width="0.4" transform="translate(306.5 321.2) scale(1 0.94)" textLength="15.8" lengthAdjust="spacingAndGlyphs">0.79</text>
<clipPath id="cb4"><rect x="342.5" y="268.2" width="64.19999999999999" height="63.80000000000001"/></clipPath>
<g clip-path="url(#cb4)">
<g opacity="1.0">
<ellipse cx="353.0" cy="319.5" rx="11.50" ry="14.40" fill="#bbb" opacity="0.55" filter="url(#b1)" transform="rotate(0 353.0 319.5)"/>
<ellipse cx="353.0" cy="319.5" rx="9.79" ry="12.54" fill="#a6a6a6" filter="url(#b05)" transform="rotate(0 353.0 319.5)"/>
<ellipse cx="353.0" cy="319.5" rx="8.24" ry="10.56" fill="none" stroke="#7a7a7a" stroke-width="0.9" filter="url(#b05)" transform="rotate(0 353.0 319.5)"/>
<ellipse cx="353.0" cy="319.5" rx="5.67" ry="7.26" fill="#8c8c8c" stroke="#6a6a6a" stroke-width="0.7" filter="url(#b05)" transform="rotate(0 353.0 319.5)"/>
<ellipse cx="353.0" cy="319.5" rx="3.09" ry="3.96" fill="#777" filter="url(#b05)" transform="rotate(0 353.0 319.5)"/>
<ellipse cx="353.0" cy="319.5" rx="0.8" ry="0.8" fill="#fff" opacity="0.95"/>
</g>
<ellipse cx="353.25" cy="297.5" rx="6.2" ry="5.8" fill="#444" opacity="0.8" filter="url(#b05)"/>
<ellipse cx="353.25" cy="297.5" rx="4" ry="3.8" fill="#888" opacity="0.8" filter="url(#b05)"/>
<ellipse cx="353.25" cy="297.5" rx="2" ry="2" fill="#555" opacity="0.8" filter="url(#b05)"/>
<ellipse cx="373.7" cy="320.7" rx="5" ry="5.5" fill="#777" opacity="0.22999999999999998" filter="url(#b1)"/>
<line x1="360.5" y1="308.2" x2="392.5" y2="276.2" stroke="#999" stroke-width="3" opacity="0.06" filter="url(#b2)"/>
<ellipse cx="352.5" cy="273.7" rx="4.5" ry="1.8" fill="#999" opacity="0.10" filter="url(#b1)"/>
<ellipse cx="363.5" cy="308.2" rx="2" ry="6" fill="#999" opacity="0.25" filter="url(#b1)"/>
</g>
<rect x="342.5" y="268.2" width="64.19999999999999" height="63.80000000000001" fill="none" stroke="#111" stroke-width="1.5"/>
<path d="M345.6 298.0 C345.4 292.5 349.2 290.2 353.8 290.4 C358.8 290.6 361.1 294.0 360.9 299.0 C360.6 303.5 357.2 304.7 352.2 304.5 C348.2 304.3 345.9 302.0 345.6 298.0 Z" fill="none" stroke="#111" stroke-width="1.8"/>
<path d="M365.9 321.2 C365.9 315.4 369.7 312.4 374.2 312.6 C379.2 313.0 381.7 316.7 381.5 322.2 C381.1 326.9 377.7 328.8 372.7 328.6 C368.7 328.4 366.1 325.7 365.9 321.2 Z" fill="none" stroke="#111" stroke-width="1.6"/>
<text xml:space="preserve" x="0" y="0" font-size="8" font-weight="bold" text-anchor="middle" fill="#111" stroke="#111" stroke-width="0.4" transform="translate(369.0 264.3) scale(1 0.94)">8w</text>
<text xml:space="preserve" x="0" y="0" font-size="8.6" font-weight="bold" text-anchor="start" fill="#111" stroke="#111" stroke-width="0.4" transform="translate(346.3 284.4) scale(1 0.94)" textLength="15.8" lengthAdjust="spacingAndGlyphs">2.08</text>
<text xml:space="preserve" x="0" y="0" font-size="8.6" font-weight="bold" text-anchor="start" fill="#111" stroke="#111" stroke-width="0.4" transform="translate(384.5 321.2) scale(1 0.94)" textLength="15.8" lengthAdjust="spacingAndGlyphs">0.22</text>
<clipPath id="cb5"><rect x="421.2" y="268.2" width="64.19999999999999" height="63.80000000000001"/></clipPath>
<g clip-path="url(#cb5)">
<g opacity="1.0">
<ellipse cx="431.7" cy="319.5" rx="11.50" ry="14.40" fill="#bbb" opacity="0.55" filter="url(#b1)" transform="rotate(0 431.7 319.5)"/>
<ellipse cx="431.7" cy="319.5" rx="9.79" ry="12.54" fill="#a6a6a6" filter="url(#b05)" transform="rotate(0 431.7 319.5)"/>
<ellipse cx="431.7" cy="319.5" rx="8.24" ry="10.56" fill="none" stroke="#7a7a7a" stroke-width="0.9" filter="url(#b05)" transform="rotate(0 431.7 319.5)"/>
<ellipse cx="431.7" cy="319.5" rx="5.67" ry="7.26" fill="#8c8c8c" stroke="#6a6a6a" stroke-width="0.7" filter="url(#b05)" transform="rotate(0 431.7 319.5)"/>
<ellipse cx="431.7" cy="319.5" rx="3.09" ry="3.96" fill="#777" filter="url(#b05)" transform="rotate(0 431.7 319.5)"/>
<ellipse cx="431.7" cy="319.5" rx="0.8" ry="0.8" fill="#fff" opacity="0.95"/>
</g>
<ellipse cx="431.75" cy="297.5" rx="6.2" ry="5.8" fill="#444" opacity="0.85" filter="url(#b05)"/>
<ellipse cx="431.75" cy="297.5" rx="4" ry="3.8" fill="#888" opacity="0.8" filter="url(#b05)"/>
<ellipse cx="432.05" cy="297.7" rx="2.1" ry="2.1" fill="#fff" opacity="0.98" filter="url(#b05)"/>
<ellipse cx="452.5" cy="320.09999999999997" rx="5" ry="5.5" fill="#777" opacity="0.2" filter="url(#b1)"/>
<line x1="439.2" y1="308.2" x2="471.2" y2="276.2" stroke="#999" stroke-width="3" opacity="0.06" filter="url(#b2)"/>
<ellipse cx="431.2" cy="273.7" rx="4.5" ry="1.8" fill="#999" opacity="0.10" filter="url(#b1)"/>
<ellipse cx="442.2" cy="308.2" rx="2" ry="6" fill="#999" opacity="0.25" filter="url(#b1)"/>
</g>
<rect x="421.2" y="268.2" width="64.19999999999999" height="63.80000000000001" fill="none" stroke="#111" stroke-width="1.5"/>
<path d="M424.1 298.0 C423.9 292.5 427.8 290.2 432.2 290.4 C437.2 290.6 439.6 294.0 439.4 299.0 C439.1 303.5 435.8 304.7 430.8 304.5 C426.8 304.3 424.4 302.0 424.1 298.0 Z" fill="none" stroke="#111" stroke-width="1.8"/>
<path d="M444.7 320.6 C444.7 314.8 448.5 311.8 453.0 312.0 C458.0 312.4 460.5 316.1 460.3 321.6 C459.9 326.3 456.5 328.2 451.5 328.0 C447.5 327.8 444.9 325.1 444.7 320.6 Z" fill="none" stroke="#111" stroke-width="1.6"/>
<text xml:space="preserve" x="0" y="0" font-size="8" font-weight="bold" text-anchor="middle" fill="#111" stroke="#111" stroke-width="0.4" transform="translate(447.7 264.3) scale(1 0.94)">12w</text>
<text xml:space="preserve" x="0" y="0" font-size="8.6" font-weight="bold" text-anchor="start" fill="#111" stroke="#111" stroke-width="0.4" transform="translate(425.0 284.4) scale(1 0.94)" textLength="15.8" lengthAdjust="spacingAndGlyphs">2.88</text>
<text xml:space="preserve" x="0" y="0" font-size="8.6" font-weight="bold" text-anchor="start" fill="#111" stroke="#111" stroke-width="0.4" transform="translate(463.2 321.2) scale(1 0.94)" textLength="15.8" lengthAdjust="spacingAndGlyphs">0.19</text>
<line x1="10.5" y1="328" x2="10.50" y2="277.50" stroke="#555" stroke-width="1"/>
<polygon points="10.50,270.00 14.10,277.50 6.90,277.50" fill="#111"/>
<text xml:space="preserve" x="0" y="0" font-size="8.3" font-weight="bold" text-anchor="start" fill="#111" stroke="#111" stroke-width="0.4" transform="translate(4.5 340.8) scale(1 0.94)" textLength="17.5" lengthAdjust="spacingAndGlyphs">CM9</text>
<text xml:space="preserve" x="0" y="0" font-size="8.3" font-weight="bold" text-anchor="start" fill="#111" stroke="#111" stroke-width="0.4" transform="translate(22 352.7) scale(1 0.94)">TL8</text>
<line x1="38" y1="349.8" x2="77.50" y2="349.80" stroke="#555" stroke-width="1"/>
<polygon points="85.00,349.80 77.50,353.40 77.50,346.20" fill="#111"/>
<text xml:space="preserve" x="3" y="403" font-size="24" font-weight="bold" text-anchor="start" fill="#111" stroke="#111" stroke-width="0.4">C</text>
<line x1="16.5" y1="421" x2="430.5" y2="421" stroke="#111" stroke-width="1.5"/>
<text xml:space="preserve" x="0" y="0" font-size="10.4" font-weight="bold" text-anchor="start" fill="#111" stroke="#111" stroke-width="0.4" transform="translate(174 414) scale(1 0.94)" textLength="86" lengthAdjust="spacingAndGlyphs">Total populations</text>
<line x1="16.5" y1="554.3" x2="430.5" y2="554.3" stroke="#111" stroke-width="1.5"/>
<text xml:space="preserve" x="0" y="0" font-size="10.4" font-weight="bold" text-anchor="start" fill="#111" stroke="#111" stroke-width="0.4" transform="translate(129 544) scale(1 0.94)" textLength="191" lengthAdjust="spacingAndGlyphs">CD28<tspan dy="-3.2" font-size="7.6">high</tspan><tspan dy="3.2">CD95</tspan><tspan dy="-2.6" font-size="8">+</tspan><tspan dy="2.6">CD8</tspan><tspan dy="-2.6" font-size="8">+</tspan><tspan dy="2.6"> T cell populations</tspan></text>
<line x1="16.5" y1="679" x2="430.5" y2="679" stroke="#111" stroke-width="1.5"/>
<text xml:space="preserve" x="0" y="0" font-size="10.4" font-weight="bold" text-anchor="start" fill="#111" stroke="#111" stroke-width="0.4" transform="translate(130 671.5) scale(1 0.94)" textLength="177.5" lengthAdjust="spacingAndGlyphs">CD28<tspan dy="-3" font-size="8">-</tspan><tspan dy="3">CD95</tspan><tspan dy="-2.6" font-size="8">+</tspan><tspan dy="2.6">CD8</tspan><tspan dy="-2.6" font-size="8">+</tspan><tspan dy="2.6"> T cell populations</tspan></text>
<line x1="30.3" y1="439.3" x2="30.3" y2="522.7" stroke="#111" stroke-width="1.4"/>
<line x1="27.8" y1="522.70" x2="30.3" y2="522.70" stroke="#111" stroke-width="0.9"/>
<text xml:space="preserve" x="0" y="0" font-size="9" font-weight="normal" text-anchor="end" fill="#111" stroke="#111" stroke-width="0.2" transform="translate(27.3 526.0) scale(1 1.1)">0</text>
<line x1="28.5" y1="514.36" x2="30.3" y2="514.36" stroke="#111" stroke-width="0.8"/>
<line x1="27.8" y1="506.02" x2="30.3" y2="506.02" stroke="#111" stroke-width="0.9"/>
<text xml:space="preserve" x="0" y="0" font-size="9" font-weight="normal" text-anchor="end" fill="#111" stroke="#111" stroke-width="0.2" transform="translate(27.3 509.32) scale(1 1.1)">20</text>
<line x1="28.5" y1="497.68" x2="30.3" y2="497.68" stroke="#111" stroke-width="0.8"/>
<line x1="27.8" y1="489.34" x2="30.3" y2="489.34" stroke="#111" stroke-width="0.9"/>
<text xml:space="preserve" x="0" y="0" font-size="9" font-weight="normal" text-anchor="end" fill="#111" stroke="#111" stroke-width="0.2" transform="translate(27.3 492.64) scale(1 1.1)">40</text>
<line x1="28.5" y1="481.00" x2="30.3" y2="481.00" stroke="#111" stroke-width="0.8"/>
<line x1="27.8" y1="472.66" x2="30.3" y2="472.66" stroke="#111" stroke-width="0.9"/>
<text xml:space="preserve" x="0" y="0" font-size="9" font-weight="normal" text-anchor="end" fill="#111" stroke="#111" stroke-width="0.2" transform="translate(27.3 475.96) scale(1 1.1)">60</text>
<line x1="28.5" y1="464.32" x2="30.3" y2="464.32" stroke="#111" stroke-width="0.8"/>
<line x1="27.8" y1="455.98" x2="30.3" y2="455.98" stroke="#111" stroke-width="0.9"/>
<text xml:space="preserve" x="0" y="0" font-size="9" font-weight="normal" text-anchor="end" fill="#111" stroke="#111" stroke-width="0.2" transform="translate(27.3 459.28) scale(1 1.1)">80</text>
<line x1="28.5" y1="447.64" x2="30.3" y2="447.64" stroke="#111" stroke-width="0.8"/>
<line x1="27.8" y1="439.30" x2="30.3" y2="439.30" stroke="#111" stroke-width="0.9"/>
<text xml:space="preserve" x="0" y="0" font-size="9" font-weight="normal" text-anchor="end" fill="#111" stroke="#111" stroke-width="0.2" transform="translate(27.3 442.6) scale(1 1.1)">100</text>
<line x1="29.7" y1="522.7" x2="178" y2="522.7" stroke="#111" stroke-width="1.4"/>
<line x1="55" y1="522.7" x2="55" y2="524.9000000000001" stroke="#111" stroke-width="0.9"/>
<line x1="80" y1="522.7" x2="80" y2="524.9000000000001" stroke="#111" stroke-width="0.9"/>
<line x1="104.5" y1="522.7" x2="104.5" y2="524.9000000000001" stroke="#111" stroke-width="0.9"/>
<line x1="129" y1="522.7" x2="129" y2="524.9000000000001" stroke="#111" stroke-width="0.9"/>
<line x1="153.5" y1="522.7" x2="153.5" y2="524.9000000000001" stroke="#111" stroke-width="0.9"/>
<line x1="178" y1="438.8" x2="178" y2="522.5" stroke="#111" stroke-width="1.4"/>
<line x1="176" y1="522.50" x2="178" y2="522.50" stroke="#111" stroke-width="0.9"/>
<text xml:space="preserve" x="0" y="0" font-size="9.5" font-weight="normal" text-anchor="start" fill="#111" stroke="#111" stroke-width="0.2" transform="translate(180.3 525.8) scale(1 1.1)">0</text>
<line x1="176" y1="508.55" x2="178" y2="508.55" stroke="#111" stroke-width="0.9"/>
<text xml:space="preserve" x="0" y="0" font-size="9.5" font-weight="normal" text-anchor="start" fill="#111" stroke="#111" stroke-width="0.2" transform="translate(180.3 511.85) scale(1 1.1)">1</text>
<line x1="176" y1="494.60" x2="178" y2="494.60" stroke="#111" stroke-width="0.9"/>
<text xml:space="preserve" x="0" y="0" font-size="9.5" font-weight="normal" text-anchor="start" fill="#111" stroke="#111" stroke-width="0.2" transform="translate(180.3 497.9) scale(1 1.1)">2</text>
<line x1="176" y1="480.65" x2="178" y2="480.65" stroke="#111" stroke-width="0.9"/>
<text xml:space="preserve" x="0" y="0" font-size="9.5" font-weight="normal" text-anchor="start" fill="#111" stroke="#111" stroke-width="0.2" transform="translate(180.3 483.95) scale(1 1.1)">3</text>
<line x1="176" y1="466.70" x2="178" y2="466.70" stroke="#111" stroke-width="0.9"/>
<text xml:space="preserve" x="0" y="0" font-size="9.5" font-weight="normal" text-anchor="start" fill="#111" stroke="#111" stroke-width="0.2" transform="translate(180.3 470.0) scale(1 1.1)">4</text>
<line x1="176" y1="452.75" x2="178" y2="452.75" stroke="#111" stroke-width="0.9"/>
<text xml:space="preserve" x="0" y="0" font-size="9.5" font-weight="normal" text-anchor="start" fill="#111" stroke="#111" stroke-width="0.2" transform="translate(180.3 456.05) scale(1 1.1)">5</text>
<line x1="176" y1="438.80" x2="180" y2="438.80" stroke="#111" stroke-width="0.9"/>
<text xml:space="preserve" x="0" y="0" font-size="9.5" font-weight="normal" text-anchor="start" fill="#111" stroke="#111" stroke-width="0.2" transform="translate(180.3 442.1) scale(1 1.1)">6</text>
<text xml:space="preserve" x="11.8" y="477" font-size="8" font-weight="bold" text-anchor="middle" fill="#111" stroke="#111" stroke-width="0.4" transform="rotate(-90 11.8 477)">%of PD-1<tspan dy="-2.5" font-size="4.5">High</tspan></text>
<text xml:space="preserve" x="200.5" y="478" font-size="8.4" font-weight="bold" text-anchor="middle" fill="#111" stroke="#111" stroke-width="0.4" transform="rotate(-90 200.5 478)" textLength="82" lengthAdjust="spacingAndGlyphs">Viral RNA (copies/ml</text>
<text xml:space="preserve" x="211.3" y="476" font-size="8.4" font-weight="bold" text-anchor="middle" fill="#111" stroke="#111" stroke-width="0.4" transform="rotate(-90 211.3 476)">plasma X10<tspan dy="-2.8" font-size="4.8">7</tspan><tspan dy="2.8">)</tspan></text>
<path d="M92.5 448 L92.5 497.5 M90.7 448 L94.3 448 M90.7 497.5 L94.3 497.5" stroke="#111" stroke-width="1" fill="none"/>
<path d="M141.3 495 L141.3 516 M139.5 495 L143.10000000000002 495 M139.5 516 L143.10000000000002 516" stroke="#111" stroke-width="1" fill="none"/>
<path d="M165.8 497.5 L165.8 520 M164.0 497.5 L167.60000000000002 497.5 M164.0 520 L167.60000000000002 520" stroke="#111" stroke-width="1" fill="none"/>
<path d="M42.5 486 L42.5 498 M40.7 486 L44.3 486 M40.7 498 L44.3 498" stroke="#111" stroke-width="1" fill="none"/>
<path d="M67.5 485 L67.5 498 M65.7 485 L69.3 485 M65.7 498 L69.3 498" stroke="#111" stroke-width="1" fill="none"/>
<path d="M92.5 486 L92.5 498 M90.7 486 L94.3 486 M90.7 498 L94.3 498" stroke="#111" stroke-width="1" fill="none"/>
<path d="M116.8 478 L116.8 492 M115.0 478 L118.6 478 M115.0 492 L118.6 492" stroke="#111" stroke-width="1" fill="none"/>
<path d="M141.3 481 L141.3 497 M139.5 481 L143.10000000000002 481 M139.5 497 L143.10000000000002 497" stroke="#111" stroke-width="1" fill="none"/>
<path d="M165.8 481 L165.8 497 M164.0 481 L167.60000000000002 481 M164.0 497 L167.60000000000002 497" stroke="#111" stroke-width="1" fill="none"/>
<path d="M92.5 447.5 L92.5 478 M90.7 447.5 L94.3 447.5 M90.7 478 L94.3 478" stroke="#111" stroke-width="1" fill="none"/>
<path d="M116.8 445 L116.8 457 M115.0 445 L118.6 445 M115.0 457 L118.6 457" stroke="#111" stroke-width="1" fill="none"/>
<path d="M141.3 465 L141.3 475 M139.5 465 L143.10000000000002 465 M139.5 475 L143.10000000000002 475" stroke="#111" stroke-width="1" fill="none"/>
<path d="M165.8 470 L165.8 483.8 M164.0 470 L167.60000000000002 470 M164.0 483.8 L167.60000000000002 483.8" stroke="#111" stroke-width="1" fill="none"/>
<path d="M116.8 441 L116.8 453 M115.0 441 L118.6 441 M115.0 453 L118.6 453" stroke="#111" stroke-width="1" fill="none"/>
<path d="M141.3 440.5 L141.3 453.8 M139.5 440.5 L143.10000000000002 440.5 M139.5 453.8 L143.10000000000002 453.8" stroke="#111" stroke-width="1" fill="none"/>
<path d="M165.8 440 L165.8 455 M164.0 440 L167.60000000000002 440 M164.0 455 L167.60000000000002 455" stroke="#111" stroke-width="1" fill="none"/>
<path d="M42.5 522 L67.5 522 L92.5 473.8 L116.8 515 L141.3 505.5 L165.8 509.5" fill="none" stroke="#111" stroke-width="1.2" stroke-dasharray="3.3 2.4"/>
<path d="M42.5 492 L67.5 491 L92.5 491.8 L116.8 485 L141.3 488.8 L165.8 489.3" fill="none" stroke="#111" stroke-width="1.25" stroke-dasharray="12.5 5 2.5 5" stroke-dashoffset="6.25"/>
<path d="M92.5 462.5 L116.8 450.8 L141.3 469.5 L165.8 476.3" fill="none" stroke="#111" stroke-width="1.25" stroke-dasharray="6.5 3.5"/>
<path d="M92.5 465 L116.8 447 L141.3 447.5 L165.8 448" fill="none" stroke="#111" stroke-width="1.25"/>
<circle cx="42.5" cy="522" r="1.9" fill="#fff" stroke="#111" stroke-width="0.9"/>
<circle cx="67.5" cy="522" r="1.9" fill="#fff" stroke="#111" stroke-width="0.9"/>
<circle cx="92.5" cy="473.8" r="1.9" fill="#fff" stroke="#111" stroke-width="0.9"/>
<circle cx="116.8" cy="515" r="1.9" fill="#fff" stroke="#111" stroke-width="0.9"/>
<circle cx="141.3" cy="505.5" r="1.9" fill="#fff" stroke="#111" stroke-width="0.9"/>
<circle cx="165.8" cy="509.5" r="1.9" fill="#fff" stroke="#111" stroke-width="0.9"/>
<polygon points="92.5,461.90 95.40,467.10 89.60,467.10" fill="#fff" stroke="#111" stroke-width="1.1"/>
<polygon points="116.8,443.90 119.70,449.10 113.90,449.10" fill="#fff" stroke="#111" stroke-width="1.1"/>
<polygon points="141.3,444.40 144.20,449.60 138.40,449.60" fill="#fff" stroke="#111" stroke-width="1.1"/>
<polygon points="165.8,444.90 168.70,450.10 162.90,450.10" fill="#fff" stroke="#111" stroke-width="1.1"/>
<rect x="90.40" y="460.40" width="4.2" height="4.2" fill="#fff" stroke="#111" stroke-width="1.1"/>
<rect x="114.70" y="448.70" width="4.2" height="4.2" fill="#fff" stroke="#111" stroke-width="1.1"/>
<rect x="139.20" y="467.40" width="4.2" height="4.2" fill="#fff" stroke="#111" stroke-width="1.1"/>
<rect x="163.70" y="474.20" width="4.2" height="4.2" fill="#fff" stroke="#111" stroke-width="1.1"/>
<polygon points="42.5,489.30 45.20,492 42.5,494.70 39.80,492" fill="#111" stroke="#111" stroke-width="0.4"/>
<polygon points="67.5,488.30 70.20,491 67.5,493.70 64.80,491" fill="#111" stroke="#111" stroke-width="0.4"/>
<polygon points="92.5,489.10 95.20,491.8 92.5,494.50 89.80,491.8" fill="#111" stroke="#111" stroke-width="0.4"/>
<polygon points="116.8,482.30 119.50,485 116.8,487.70 114.10,485" fill="#111" stroke="#111" stroke-width="0.4"/>
<polygon points="141.3,486.10 144.00,488.8 141.3,491.50 138.60,488.8" fill="#111" stroke="#111" stroke-width="0.4"/>
<polygon points="165.8,486.60 168.50,489.3 165.8,492.00 163.10,489.3" fill="#111" stroke="#111" stroke-width="0.4"/>
<line x1="262.5" y1="438.8" x2="262.5" y2="522" stroke="#111" stroke-width="1.4"/>
<line x1="260.0" y1="522.00" x2="262.5" y2="522.00" stroke="#111" stroke-width="0.9"/>
<text xml:space="preserve" x="0" y="0" font-size="9" font-weight="normal" text-anchor="end" fill="#111" stroke="#111" stroke-width="0.2" transform="translate(260.5 525.3) scale(1 1.1)">0</text>
<line x1="260.0" y1="505.36" x2="262.5" y2="505.36" stroke="#111" stroke-width="0.9"/>
<text xml:space="preserve" x="0" y="0" font-size="9" font-weight="normal" text-anchor="end" fill="#111" stroke="#111" stroke-width="0.2" transform="translate(260.5 508.66) scale(1 1.1)">500</text>
<line x1="260.0" y1="488.72" x2="262.5" y2="488.72" stroke="#111" stroke-width="0.9"/>
<text xml:space="preserve" x="0" y="0" font-size="9" font-weight="normal" text-anchor="end" fill="#111" stroke="#111" stroke-width="0.2" transform="translate(260.5 492.02) scale(1 1.1)">1000</text>
<line x1="260.0" y1="472.08" x2="262.5" y2="472.08" stroke="#111" stroke-width="0.9"/>
<text xml:space="preserve" x="0" y="0" font-size="9" font-weight="normal" text-anchor="end" fill="#111" stroke="#111" stroke-width="0.2" transform="translate(260.5 475.38) scale(1 1.1)">1500</text>
<line x1="260.0" y1="455.44" x2="262.5" y2="455.44" stroke="#111" stroke-width="0.9"/>
<text xml:space="preserve" x="0" y="0" font-size="9" font-weight="normal" text-anchor="end" fill="#111" stroke="#111" stroke-width="0.2" transform="translate(260.5 458.74) scale(1 1.1)">2000</text>
<line x1="260.0" y1="438.80" x2="262.5" y2="438.80" stroke="#111" stroke-width="0.9"/>
<text xml:space="preserve" x="0" y="0" font-size="9" font-weight="normal" text-anchor="end" fill="#111" stroke="#111" stroke-width="0.2" transform="translate(260.5 442.1) scale(1 1.1)">2500</text>
<line x1="261.9" y1="522" x2="412" y2="522" stroke="#111" stroke-width="1.4"/>
<line x1="287" y1="522" x2="287" y2="524.2" stroke="#111" stroke-width="0.9"/>
<line x1="311.5" y1="522" x2="311.5" y2="524.2" stroke="#111" stroke-width="0.9"/>
<line x1="336.5" y1="522" x2="336.5" y2="524.2" stroke="#111" stroke-width="0.9"/>
<line x1="361.5" y1="522" x2="361.5" y2="524.2" stroke="#111" stroke-width="0.9"/>
<line x1="386.5" y1="522" x2="386.5" y2="524.2" stroke="#111" stroke-width="0.9"/>
<line x1="411.5" y1="522" x2="411.5" y2="524.2" stroke="#111" stroke-width="0.9"/>
<text xml:space="preserve" x="234.3" y="477" font-size="8" font-weight="bold" text-anchor="middle" fill="#111" stroke="#111" stroke-width="0.4" transform="rotate(-90 234.3 477)">MFI of PD-1</text>
<path d="M274.3 507 L274.3 512 M272.5 507 L276.1 507 M272.5 512 L276.1 512" stroke="#111" stroke-width="1" fill="none"/>
<path d="M324.3 506 L324.3 511 M322.5 506 L326.1 506 M322.5 511 L326.1 511" stroke="#111" stroke-width="1" fill="none"/>
<path d="M348.8 503.5 L348.8 508 M347.0 503.5 L350.6 503.5 M347.0 508 L350.6 508" stroke="#111" stroke-width="1" fill="none"/>
<path d="M374.3 503.8 L374.3 511 M372.5 503.8 L376.1 503.8 M372.5 511 L376.1 511" stroke="#111" stroke-width="1" fill="none"/>
<path d="M399.3 506 L399.3 511 M397.5 506 L401.1 506 M397.5 511 L401.1 511" stroke="#111" stroke-width="1" fill="none"/>
<path d="M324.3 484 L324.3 505 M322.5 484 L326.1 484 M322.5 505 L326.1 505" stroke="#111" stroke-width="1" fill="none"/>
<path d="M348.8 459 L348.8 497.5 M347.0 459 L350.6 459 M347.0 497.5 L350.6 497.5" stroke="#111" stroke-width="1" fill="none"/>
<path d="M374.3 492.5 L374.3 501 M372.5 492.5 L376.1 492.5 M372.5 501 L376.1 501" stroke="#111" stroke-width="1" fill="none"/>
<path d="M399.3 503 L399.3 507 M397.5 503 L401.1 503 M397.5 507 L401.1 507" stroke="#111" stroke-width="1" fill="none"/>
<path d="M324.3 478.8 L324.3 503 M322.5 478.8 L326.1 478.8 M322.5 503 L326.1 503" stroke="#111" stroke-width="1" fill="none"/>
<path d="M348.8 442 L348.8 474 M347.0 442 L350.6 442 M347.0 474 L350.6 474" stroke="#111" stroke-width="1" fill="none"/>
<path d="M374.3 441.3 L374.3 465.5 M372.5 441.3 L376.1 441.3 M372.5 465.5 L376.1 465.5" stroke="#111" stroke-width="1" fill="none"/>
<path d="M399.3 446.8 L399.3 482.5 M397.5 446.8 L401.1 446.8 M397.5 482.5 L401.1 482.5" stroke="#111" stroke-width="1" fill="none"/>
<path d="M274.3 509.5 L299.3 509.5 L324.3 508.8 L348.8 505.8 L374.3 507 L399.3 508.8" fill="none" stroke="#111" stroke-width="1.25" stroke-dasharray="12.5 5 2.5 5" stroke-dashoffset="6.25"/>
<path d="M324.3 493.8 L348.8 478.3 L374.3 497 L399.3 505" fill="none" stroke="#111" stroke-width="1.25" stroke-dasharray="6.5 3.5"/>
<path d="M324.3 491.3 L348.8 458.3 L374.3 452.5 L399.3 463.8" fill="none" stroke="#111" stroke-width="1.25"/>
<polygon points="324.3,488.20 327.20,493.40 321.40,493.40" fill="#fff" stroke="#111" stroke-width="1.1"/>
<polygon points="348.8,455.20 351.70,460.40 345.90,460.40" fill="#fff" stroke="#111" stroke-width="1.1"/>
<polygon points="374.3,449.40 377.20,454.60 371.40,454.60" fill="#fff" stroke="#111" stroke-width="1.1"/>
<polygon points="399.3,460.70 402.20,465.90 396.40,465.90" fill="#fff" stroke="#111" stroke-width="1.1"/>
<rect x="322.20" y="491.70" width="4.2" height="4.2" fill="#fff" stroke="#111" stroke-width="1.1"/>
<rect x="346.70" y="476.20" width="4.2" height="4.2" fill="#fff" stroke="#111" stroke-width="1.1"/>
<rect x="372.20" y="494.90" width="4.2" height="4.2" fill="#fff" stroke="#111" stroke-width="1.1"/>
<rect x="397.20" y="502.90" width="4.2" height="4.2" fill="#fff" stroke="#111" stroke-width="1.1"/>
<polygon points="274.3,506.80 277.00,509.5 274.3,512.20 271.60,509.5" fill="#111" stroke="#111" stroke-width="0.4"/>
<polygon points="299.3,506.80 302.00,509.5 299.3,512.20 296.60,509.5" fill="#111" stroke="#111" stroke-width="0.4"/>
<polygon points="324.3,506.10 327.00,508.8 324.3,511.50 321.60,508.8" fill="#111" stroke="#111" stroke-width="0.4"/>
<polygon points="348.8,503.10 351.50,505.8 348.8,508.50 346.10,505.8" fill="#111" stroke="#111" stroke-width="0.4"/>
<polygon points="374.3,504.30 377.00,507 374.3,509.70 371.60,507" fill="#111" stroke="#111" stroke-width="0.4"/>
<polygon points="399.3,506.10 402.00,508.8 399.3,511.50 396.60,508.8" fill="#111" stroke="#111" stroke-width="0.4"/>
<line x1="31.2" y1="565.2" x2="31.2" y2="648.8" stroke="#111" stroke-width="1.4"/>
<line x1="28.7" y1="648.80" x2="31.2" y2="648.80" stroke="#111" stroke-width="0.9"/>
<text xml:space="preserve" x="0" y="0" font-size="9" font-weight="normal" text-anchor="end" fill="#111" stroke="#111" stroke-width="0.2" transform="translate(28.2 652.1) scale(1 1.1)">0</text>
<line x1="29.4" y1="640.44" x2="31.2" y2="640.44" stroke="#111" stroke-width="0.8"/>
<line x1="28.7" y1="632.08" x2="31.2" y2="632.08" stroke="#111" stroke-width="0.9"/>
<text xml:space="preserve" x="0" y="0" font-size="9" font-weight="normal" text-anchor="end" fill="#111" stroke="#111" stroke-width="0.2" transform="translate(28.2 635.38) scale(1 1.1)">20</text>
<line x1="29.4" y1="623.72" x2="31.2" y2="623.72" stroke="#111" stroke-width="0.8"/>
<line x1="28.7" y1="615.36" x2="31.2" y2="615.36" stroke="#111" stroke-width="0.9"/>
<text xml:space="preserve" x="0" y="0" font-size="9" font-weight="normal" text-anchor="end" fill="#111" stroke="#111" stroke-width="0.2" transform="translate(28.2 618.66) scale(1 1.1)">40</text>
<line x1="29.4" y1="607.00" x2="31.2" y2="607.00" stroke="#111" stroke-width="0.8"/>
<line x1="28.7" y1="598.64" x2="31.2" y2="598.64" stroke="#111" stroke-width="0.9"/>
<text xml:space="preserve" x="0" y="0" font-size="9" font-weight="normal" text-anchor="end" fill="#111" stroke="#111" stroke-width="0.2" transform="translate(28.2 601.94) scale(1 1.1)">60</text>
<line x1="29.4" y1="590.28" x2="31.2" y2="590.28" stroke="#111" stroke-width="0.8"/>
<line x1="28.7" y1="581.92" x2="31.2" y2="581.92" stroke="#111" stroke-width="0.9"/>
<text xml:space="preserve" x="0" y="0" font-size="9" font-weight="normal" text-anchor="end" fill="#111" stroke="#111" stroke-width="0.2" transform="translate(28.2 585.22) scale(1 1.1)">80</text>
<line x1="29.4" y1="573.56" x2="31.2" y2="573.56" stroke="#111" stroke-width="0.8"/>
<line x1="28.7" y1="565.20" x2="31.2" y2="565.20" stroke="#111" stroke-width="0.9"/>
<text xml:space="preserve" x="0" y="0" font-size="9" font-weight="normal" text-anchor="end" fill="#111" stroke="#111" stroke-width="0.2" transform="translate(28.2 568.5) scale(1 1.1)">100</text>
<line x1="30.599999999999998" y1="648.8" x2="182.5" y2="648.8" stroke="#111" stroke-width="1.4"/>
<line x1="57.5" y1="648.8" x2="57.5" y2="651.0" stroke="#111" stroke-width="0.9"/>
<line x1="82.5" y1="648.8" x2="82.5" y2="651.0" stroke="#111" stroke-width="0.9"/>
<line x1="107.8" y1="648.8" x2="107.8" y2="651.0" stroke="#111" stroke-width="0.9"/>
<line x1="133.2" y1="648.8" x2="133.2" y2="651.0" stroke="#111" stroke-width="0.9"/>
<line x1="158.2" y1="648.8" x2="158.2" y2="651.0" stroke="#111" stroke-width="0.9"/>
<line x1="182" y1="648.8" x2="182" y2="651.0" stroke="#111" stroke-width="0.9"/>
<text xml:space="preserve" x="12.8" y="602" font-size="8" font-weight="bold" text-anchor="middle" fill="#111" stroke="#111" stroke-width="0.4" transform="rotate(-90 12.8 602)">%of PD-1<tspan dy="-2.5" font-size="4.5">High</tspan></text>
<path d="M45 594 L45 601 M43.2 594 L46.8 594 M43.2 601 L46.8 601" stroke="#111" stroke-width="1" fill="none"/>
<path d="M70 594 L70 601 M68.2 594 L71.8 594 M68.2 601 L71.8 601" stroke="#111" stroke-width="1" fill="none"/>
<path d="M95 591 L95 601 M93.2 591 L96.8 591 M93.2 601 L96.8 601" stroke="#111" stroke-width="1" fill="none"/>
<path d="M120 588.8 L120 598.8 M118.2 588.8 L121.8 588.8 M118.2 598.8 L121.8 598.8" stroke="#111" stroke-width="1" fill="none"/>
<path d="M145 586.5 L145 598.5 M143.2 586.5 L146.8 586.5 M143.2 598.5 L146.8 598.5" stroke="#111" stroke-width="1" fill="none"/>
<path d="M170.5 587 L170.5 601 M168.7 587 L172.3 587 M168.7 601 L172.3 601" stroke="#111" stroke-width="1" fill="none"/>
<path d="M95 569 L95 601 M93.2 569 L96.8 569 M93.2 601 L96.8 601" stroke="#111" stroke-width="1" fill="none"/>
<path d="M120 572 L120 583 M118.2 572 L121.8 572 M118.2 583 L121.8 583" stroke="#111" stroke-width="1" fill="none"/>
<path d="M145 583.8 L145 597.5 M143.2 583.8 L146.8 583.8 M143.2 597.5 L146.8 597.5" stroke="#111" stroke-width="1" fill="none"/>
<path d="M170.5 587 L170.5 612 M168.7 587 L172.3 587 M168.7 612 L172.3 612" stroke="#111" stroke-width="1" fill="none"/>
<path d="M95 568.8 L95 590 M93.2 568.8 L96.8 568.8 M93.2 590 L96.8 590" stroke="#111" stroke-width="1" fill="none"/>
<path d="M120 569 L120 575 M118.2 569 L121.8 569 M118.2 575 L121.8 575" stroke="#111" stroke-width="1" fill="none"/>
<path d="M145 567.5 L145 580 M143.2 567.5 L146.8 567.5 M143.2 580 L146.8 580" stroke="#111" stroke-width="1" fill="none"/>
<path d="M170.5 565.8 L170.5 580 M168.7 565.8 L172.3 565.8 M168.7 580 L172.3 580" stroke="#111" stroke-width="1" fill="none"/>
<path d="M45 597.5 L70 597.5 L95 596.3 L120 593.8 L145 592.5 L170.5 596.3" fill="none" stroke="#111" stroke-width="1.25" stroke-dasharray="12.5 5 2.5 5" stroke-dashoffset="6.25"/>
<path d="M95 587 L120 577.5 L145 590.8 L170.5 600" fill="none" stroke="#111" stroke-width="1.25" stroke-dasharray="6.5 3.5"/>
<path d="M95 582.5 L120 572 L145 573.8 L170.5 573" fill="none" stroke="#111" stroke-width="1.25"/>
<polygon points="95,579.40 97.90,584.60 92.10,584.60" fill="#fff" stroke="#111" stroke-width="1.1"/>
<polygon points="120,568.90 122.90,574.10 117.10,574.10" fill="#fff" stroke="#111" stroke-width="1.1"/>
<polygon points="145,570.70 147.90,575.90 142.10,575.90" fill="#fff" stroke="#111" stroke-width="1.1"/>
<polygon points="170.5,569.90 173.40,575.10 167.60,575.10" fill="#fff" stroke="#111" stroke-width="1.1"/>
<rect x="92.90" y="584.90" width="4.2" height="4.2" fill="#fff" stroke="#111" stroke-width="1.1"/>
<rect x="117.90" y="575.40" width="4.2" height="4.2" fill="#fff" stroke="#111" stroke-width="1.1"/>
<rect x="142.90" y="588.70" width="4.2" height="4.2" fill="#fff" stroke="#111" stroke-width="1.1"/>
<rect x="168.40" y="597.90" width="4.2" height="4.2" fill="#fff" stroke="#111" stroke-width="1.1"/>
<polygon points="45,594.80 47.70,597.5 45,600.20 42.30,597.5" fill="#111" stroke="#111" stroke-width="0.4"/>
<polygon points="70,594.80 72.70,597.5 70,600.20 67.30,597.5" fill="#111" stroke="#111" stroke-width="0.4"/>
<polygon points="95,593.60 97.70,596.3 95,599.00 92.30,596.3" fill="#111" stroke="#111" stroke-width="0.4"/>
<polygon points="120,591.10 122.70,593.8 120,596.50 117.30,593.8" fill="#111" stroke="#111" stroke-width="0.4"/>
<polygon points="145,589.80 147.70,592.5 145,595.20 142.30,592.5" fill="#111" stroke="#111" stroke-width="0.4"/>
<polygon points="170.5,593.60 173.20,596.3 170.5,599.00 167.80,596.3" fill="#111" stroke="#111" stroke-width="0.4"/>
<line x1="262.5" y1="566.2" x2="262.5" y2="648.7" stroke="#111" stroke-width="1.4"/>
<line x1="260.0" y1="648.70" x2="262.5" y2="648.70" stroke="#111" stroke-width="0.9"/>
<text xml:space="preserve" x="0" y="0" font-size="9" font-weight="normal" text-anchor="end" fill="#111" stroke="#111" stroke-width="0.2" transform="translate(260.5 652.0) scale(1 1.1)">0</text>
<line x1="260.0" y1="635.78" x2="262.5" y2="635.78" stroke="#111" stroke-width="0.9"/>
<text xml:space="preserve" x="0" y="0" font-size="9" font-weight="normal" text-anchor="end" fill="#111" stroke="#111" stroke-width="0.2" transform="translate(260.5 639.08) scale(1 1.1)">500</text>
<line x1="260.0" y1="622.87" x2="262.5" y2="622.87" stroke="#111" stroke-width="0.9"/>
<text xml:space="preserve" x="0" y="0" font-size="9" font-weight="normal" text-anchor="end" fill="#111" stroke="#111" stroke-width="0.2" transform="translate(260.5 626.17) scale(1 1.1)">1000</text>
<line x1="260.0" y1="609.95" x2="262.5" y2="609.95" stroke="#111" stroke-width="0.9"/>
<text xml:space="preserve" x="0" y="0" font-size="9" font-weight="normal" text-anchor="end" fill="#111" stroke="#111" stroke-width="0.2" transform="translate(260.5 613.25) scale(1 1.1)">1500</text>
<line x1="260.0" y1="597.03" x2="262.5" y2="597.03" stroke="#111" stroke-width="0.9"/>
<text xml:space="preserve" x="0" y="0" font-size="9" font-weight="normal" text-anchor="end" fill="#111" stroke="#111" stroke-width="0.2" transform="translate(260.5 600.33) scale(1 1.1)">2000</text>
<line x1="260.0" y1="584.12" x2="262.5" y2="584.12" stroke="#111" stroke-width="0.9"/>
<text xml:space="preserve" x="0" y="0" font-size="9" font-weight="normal" text-anchor="end" fill="#111" stroke="#111" stroke-width="0.2" transform="translate(260.5 587.42) scale(1 1.1)">2500</text>
<line x1="260.0" y1="571.20" x2="262.5" y2="571.20" stroke="#111" stroke-width="0.9"/>
<text xml:space="preserve" x="0" y="0" font-size="9" font-weight="normal" text-anchor="end" fill="#111" stroke="#111" stroke-width="0.2" transform="translate(260.5 574.5) scale(1 1.1)">3000</text>
<line x1="261.9" y1="648.7" x2="412" y2="648.7" stroke="#111" stroke-width="1.4"/>
<line x1="287.5" y1="648.7" x2="287.5" y2="650.9000000000001" stroke="#111" stroke-width="0.9"/>
<line x1="312.5" y1="648.7" x2="312.5" y2="650.9000000000001" stroke="#111" stroke-width="0.9"/>
<line x1="337.5" y1="648.7" x2="337.5" y2="650.9000000000001" stroke="#111" stroke-width="0.9"/>
<line x1="362.5" y1="648.7" x2="362.5" y2="650.9000000000001" stroke="#111" stroke-width="0.9"/>
<line x1="387.5" y1="648.7" x2="387.5" y2="650.9000000000001" stroke="#111" stroke-width="0.9"/>
<line x1="411.5" y1="648.7" x2="411.5" y2="650.9000000000001" stroke="#111" stroke-width="0.9"/>
<text xml:space="preserve" x="234.3" y="599" font-size="8" font-weight="bold" text-anchor="middle" fill="#111" stroke="#111" stroke-width="0.4" transform="rotate(-90 234.3 599)">MFI of PD-1</text>
<text xml:space="preserve" x="0" y="0" font-size="11" font-weight="bold" text-anchor="middle" fill="#111" stroke="#111" stroke-width="0.4" transform="translate(349.3 570.5) scale(1 0.94)">*</text>
<path d="M275 630.5 L275 634.5 M273.2 630.5 L276.8 630.5 M273.2 634.5 L276.8 634.5" stroke="#111" stroke-width="1" fill="none"/>
<path d="M325 626 L325 638 M323.2 626 L326.8 626 M323.2 638 L326.8 638" stroke="#111" stroke-width="1" fill="none"/>
<path d="M349.3 629 L349.3 632 M347.5 629 L351.1 629 M347.5 632 L351.1 632" stroke="#111" stroke-width="1" fill="none"/>
<path d="M374.5 623 L374.5 634 M372.7 623 L376.3 623 M372.7 634 L376.3 634" stroke="#111" stroke-width="1" fill="none"/>
<path d="M399.5 631 L399.5 636.5 M397.7 631 L401.3 631 M397.7 636.5 L401.3 636.5" stroke="#111" stroke-width="1" fill="none"/>
<path d="M325 615 L325 636 M323.2 615 L326.8 615 M323.2 636 L326.8 636" stroke="#111" stroke-width="1" fill="none"/>
<path d="M349.3 596 L349.3 630 M347.5 596 L351.1 596 M347.5 630 L351.1 630" stroke="#111" stroke-width="1" fill="none"/>
<path d="M374.5 618 L374.5 631 M372.7 618 L376.3 618 M372.7 631 L376.3 631" stroke="#111" stroke-width="1" fill="none"/>
<path d="M399.5 631.5 L399.5 636 M397.7 631.5 L401.3 631.5 M397.7 636 L401.3 636" stroke="#111" stroke-width="1" fill="none"/>
<path d="M325 612.5 L325 634 M323.2 612.5 L326.8 612.5 M323.2 634 L326.8 634" stroke="#111" stroke-width="1" fill="none"/>
<path d="M349.3 571.3 L349.3 596.3 M347.5 571.3 L351.1 571.3 M347.5 596.3 L351.1 596.3" stroke="#111" stroke-width="1" fill="none"/>
<path d="M374.5 563 L374.5 603.8 M372.7 563 L376.3 563 M372.7 603.8 L376.3 603.8" stroke="#111" stroke-width="1" fill="none"/>
<path d="M399.5 573.8 L399.5 610 M397.7 573.8 L401.3 573.8 M397.7 610 L401.3 610" stroke="#111" stroke-width="1" fill="none"/>
<path d="M275 632.5 L300 632.5 L325 632.3 L349.3 630.5 L374.5 628.8 L399.5 633.8" fill="none" stroke="#111" stroke-width="1.25" stroke-dasharray="12.5 5 2.5 5" stroke-dashoffset="6.25"/>
<path d="M325 625.5 L349.3 613 L374.5 624.5 L399.5 633.8" fill="none" stroke="#111" stroke-width="1.25" stroke-dasharray="6.5 3.5"/>
<path d="M325 623.8 L349.3 583.3 L374.5 583 L399.5 591.8" fill="none" stroke="#111" stroke-width="1.25"/>
<polygon points="325,620.70 327.90,625.90 322.10,625.90" fill="#fff" stroke="#111" stroke-width="1.1"/>
<polygon points="349.3,580.20 352.20,585.40 346.40,585.40" fill="#fff" stroke="#111" stroke-width="1.1"/>
<polygon points="374.5,579.90 377.40,585.10 371.60,585.10" fill="#fff" stroke="#111" stroke-width="1.1"/>
<polygon points="399.5,588.70 402.40,593.90 396.60,593.90" fill="#fff" stroke="#111" stroke-width="1.1"/>
<rect x="322.90" y="623.40" width="4.2" height="4.2" fill="#fff" stroke="#111" stroke-width="1.1"/>
<rect x="347.20" y="610.90" width="4.2" height="4.2" fill="#fff" stroke="#111" stroke-width="1.1"/>
<rect x="372.40" y="622.40" width="4.2" height="4.2" fill="#fff" stroke="#111" stroke-width="1.1"/>
<rect x="397.40" y="631.70" width="4.2" height="4.2" fill="#fff" stroke="#111" stroke-width="1.1"/>
<polygon points="275,629.80 277.70,632.5 275,635.20 272.30,632.5" fill="#111" stroke="#111" stroke-width="0.4"/>
<polygon points="300,629.80 302.70,632.5 300,635.20 297.30,632.5" fill="#111" stroke="#111" stroke-width="0.4"/>
<polygon points="325,629.60 327.70,632.3 325,635.00 322.30,632.3" fill="#111" stroke="#111" stroke-width="0.4"/>
<polygon points="349.3,627.80 352.00,630.5 349.3,633.20 346.60,630.5" fill="#111" stroke="#111" stroke-width="0.4"/>
<polygon points="374.5,626.10 377.20,628.8 374.5,631.50 371.80,628.8" fill="#111" stroke="#111" stroke-width="0.4"/>
<polygon points="399.5,631.10 402.20,633.8 399.5,636.50 396.80,633.8" fill="#111" stroke="#111" stroke-width="0.4"/>
<polygon points="439.2,580.40 442.10,585.60 436.30,585.60" fill="#fff" stroke="#111" stroke-width="1.1"/>
<rect x="437.10" y="590.70" width="4.2" height="4.2" fill="#fff" stroke="#111" stroke-width="1.1"/>
<polygon points="439.2,599.10 441.90,601.8 439.2,604.50 436.50,601.8" fill="#111" stroke="#111" stroke-width="0.4"/>
<circle cx="439.2" cy="611.3" r="1.5" fill="#fff" stroke="#111" stroke-width="0.8"/>
<text xml:space="preserve" x="0" y="0" font-size="8.3" font-weight="bold" text-anchor="start" fill="#111" stroke="#111" stroke-width="0.4" transform="translate(448 585.8) scale(1 0.94)">CM9<tspan dy="-3" font-size="5.5">+</tspan><tspan dy="3">CD8</tspan><tspan dy="-3" font-size="5.5">+</tspan><tspan dy="3"> T cells</tspan></text>
<text xml:space="preserve" x="0" y="0" font-size="8.3" font-weight="bold" text-anchor="start" fill="#111" stroke="#111" stroke-width="0.4" transform="translate(448 595.1) scale(1 0.94)">TL8<tspan dy="-3" font-size="5.5">+</tspan><tspan dy="3">CD8</tspan><tspan dy="-3" font-size="5.5">+</tspan><tspan dy="3"> T cells</tspan></text>
<text xml:space="preserve" x="0" y="0" font-size="8.3" font-weight="bold" text-anchor="start" fill="#111" stroke="#111" stroke-width="0.4" transform="translate(448 604.5) scale(1 0.94)">Total CD8<tspan dy="-3" font-size="5.5">+</tspan><tspan dy="3"> T cells</tspan></text>
<text xml:space="preserve" x="0" y="0" font-size="8.3" font-weight="bold" text-anchor="start" fill="#111" stroke="#111" stroke-width="0.4" transform="translate(448 613.8) scale(1 0.94)">Viral load</text>
<text xml:space="preserve" x="0" y="0" font-size="11" font-weight="bold" text-anchor="start" fill="#111" stroke="#111" stroke-width="0.4" transform="translate(432.5 634.5) scale(1 0.94)">*</text>
<text xml:space="preserve" x="0" y="0" font-size="8.3" font-weight="bold" text-anchor="start" fill="#111" stroke="#111" stroke-width="0.4" transform="translate(438.8 634.5) scale(1 0.94)"><tspan font-style="italic">P</tspan> =.03</text>
<line x1="32" y1="692" x2="32" y2="775" stroke="#111" stroke-width="1.4"/>
<line x1="29.5" y1="775.00" x2="32" y2="775.00" stroke="#111" stroke-width="0.9"/>
<text xml:space="preserve" x="0" y="0" font-size="9" font-weight="normal" text-anchor="end" fill="#111" stroke="#111" stroke-width="0.2" transform="translate(29 778.3) scale(1 1.1)">0</text>
<line x1="30.2" y1="766.70" x2="32" y2="766.70" stroke="#111" stroke-width="0.8"/>
<line x1="29.5" y1="758.40" x2="32" y2="758.40" stroke="#111" stroke-width="0.9"/>
<text xml:space="preserve" x="0" y="0" font-size="9" font-weight="normal" text-anchor="end" fill="#111" stroke="#111" stroke-width="0.2" transform="translate(29 761.7) scale(1 1.1)">20</text>
<line x1="30.2" y1="750.10" x2="32" y2="750.10" stroke="#111" stroke-width="0.8"/>
<line x1="29.5" y1="741.80" x2="32" y2="741.80" stroke="#111" stroke-width="0.9"/>
<text xml:space="preserve" x="0" y="0" font-size="9" font-weight="normal" text-anchor="end" fill="#111" stroke="#111" stroke-width="0.2" transform="translate(29 745.1) scale(1 1.1)">40</text>
<line x1="30.2" y1="733.50" x2="32" y2="733.50" stroke="#111" stroke-width="0.8"/>
<line x1="29.5" y1="725.20" x2="32" y2="725.20" stroke="#111" stroke-width="0.9"/>
<text xml:space="preserve" x="0" y="0" font-size="9" font-weight="normal" text-anchor="end" fill="#111" stroke="#111" stroke-width="0.2" transform="translate(29 728.5) scale(1 1.1)">60</text>
<line x1="30.2" y1="716.90" x2="32" y2="716.90" stroke="#111" stroke-width="0.8"/>
<line x1="29.5" y1="708.60" x2="32" y2="708.60" stroke="#111" stroke-width="0.9"/>
<text xml:space="preserve" x="0" y="0" font-size="9" font-weight="normal" text-anchor="end" fill="#111" stroke="#111" stroke-width="0.2" transform="translate(29 711.9) scale(1 1.1)">80</text>
<line x1="30.2" y1="700.30" x2="32" y2="700.30" stroke="#111" stroke-width="0.8"/>
<line x1="29.5" y1="692.00" x2="32" y2="692.00" stroke="#111" stroke-width="0.9"/>
<text xml:space="preserve" x="0" y="0" font-size="9" font-weight="normal" text-anchor="end" fill="#111" stroke="#111" stroke-width="0.2" transform="translate(29 695.3) scale(1 1.1)">100</text>
<line x1="31.4" y1="775" x2="182.5" y2="775" stroke="#111" stroke-width="1.4"/>
<line x1="57.5" y1="775" x2="57.5" y2="777.2" stroke="#111" stroke-width="0.9"/>
<line x1="82.5" y1="775" x2="82.5" y2="777.2" stroke="#111" stroke-width="0.9"/>
<line x1="107.8" y1="775" x2="107.8" y2="777.2" stroke="#111" stroke-width="0.9"/>
<line x1="133.2" y1="775" x2="133.2" y2="777.2" stroke="#111" stroke-width="0.9"/>
<line x1="158.2" y1="775" x2="158.2" y2="777.2" stroke="#111" stroke-width="0.9"/>
<line x1="182" y1="775" x2="182" y2="777.2" stroke="#111" stroke-width="0.9"/>
<text xml:space="preserve" x="12.8" y="730" font-size="8" font-weight="bold" text-anchor="middle" fill="#111" stroke="#111" stroke-width="0.4" transform="rotate(-90 12.8 730)">%of PD-1<tspan dy="-2.5" font-size="4.5">High</tspan></text>
<path d="M45 714.5 L45 746.3 M43.2 714.5 L46.8 714.5 M43.2 746.3 L46.8 746.3" stroke="#111" stroke-width="1" fill="none"/>
<path d="M70 723 L70 752 M68.2 723 L71.8 723 M68.2 752 L71.8 752" stroke="#111" stroke-width="1" fill="none"/>
<path d="M94.8 717.5 L94.8 736.3 M93.0 717.5 L96.6 717.5 M93.0 736.3 L96.6 736.3" stroke="#111" stroke-width="1" fill="none"/>
<path d="M120 717.5 L120 740.5 M118.2 717.5 L121.8 717.5 M118.2 740.5 L121.8 740.5" stroke="#111" stroke-width="1" fill="none"/>
<path d="M144.5 720 L144.5 742.5 M142.7 720 L146.3 720 M142.7 742.5 L146.3 742.5" stroke="#111" stroke-width="1" fill="none"/>
<path d="M170 717 L170 748 M168.2 717 L171.8 717 M168.2 748 L171.8 748" stroke="#111" stroke-width="1" fill="none"/>
<path d="M94.8 703 L94.8 717 M93.0 703 L96.6 703 M93.0 717 L96.6 717" stroke="#111" stroke-width="1" fill="none"/>
<path d="M120 697 L120 708 M118.2 697 L121.8 697 M118.2 708 L121.8 708" stroke="#111" stroke-width="1" fill="none"/>
<path d="M144.5 707 L144.5 721 M142.7 707 L146.3 707 M142.7 721 L146.3 721" stroke="#111" stroke-width="1" fill="none"/>
<path d="M170 720 L170 745 M168.2 720 L171.8 720 M168.2 745 L171.8 745" stroke="#111" stroke-width="1" fill="none"/>
<path d="M94.8 698 L94.8 706 M93.0 698 L96.6 698 M93.0 706 L96.6 706" stroke="#111" stroke-width="1" fill="none"/>
<path d="M120 692 L120 698 M118.2 692 L121.8 692 M118.2 698 L121.8 698" stroke="#111" stroke-width="1" fill="none"/>
<path d="M170 692 L170 703.8 M168.2 692 L171.8 692 M168.2 703.8 L171.8 703.8" stroke="#111" stroke-width="1" fill="none"/>
<path d="M45 730.8 L70 737 L94.8 727 L120 728 L144.5 729.3 L170 733" fill="none" stroke="#111" stroke-width="1.25" stroke-dasharray="12.5 5 2.5 5" stroke-dashoffset="6.25"/>
<path d="M94.8 710 L120 702.5 L144.5 715.8 L170 731.8" fill="none" stroke="#111" stroke-width="1.25" stroke-dasharray="6.5 3.5"/>
<path d="M94.8 702 L120 695 L144.5 695 L170 697.5" fill="none" stroke="#111" stroke-width="1.25"/>
<polygon points="94.8,698.90 97.70,704.10 91.90,704.10" fill="#fff" stroke="#111" stroke-width="1.1"/>
<polygon points="120,691.90 122.90,697.10 117.10,697.10" fill="#fff" stroke="#111" stroke-width="1.1"/>
<polygon points="144.5,691.90 147.40,697.10 141.60,697.10" fill="#fff" stroke="#111" stroke-width="1.1"/>
<polygon points="170,694.40 172.90,699.60 167.10,699.60" fill="#fff" stroke="#111" stroke-width="1.1"/>
<rect x="92.70" y="707.90" width="4.2" height="4.2" fill="#fff" stroke="#111" stroke-width="1.1"/>
<rect x="117.90" y="700.40" width="4.2" height="4.2" fill="#fff" stroke="#111" stroke-width="1.1"/>
<rect x="142.40" y="713.70" width="4.2" height="4.2" fill="#fff" stroke="#111" stroke-width="1.1"/>
<rect x="167.90" y="729.70" width="4.2" height="4.2" fill="#fff" stroke="#111" stroke-width="1.1"/>
<polygon points="45,728.10 47.70,730.8 45,733.50 42.30,730.8" fill="#111" stroke="#111" stroke-width="0.4"/>
<polygon points="70,734.30 72.70,737 70,739.70 67.30,737" fill="#111" stroke="#111" stroke-width="0.4"/>
<polygon points="94.8,724.30 97.50,727 94.8,729.70 92.10,727" fill="#111" stroke="#111" stroke-width="0.4"/>
<polygon points="120,725.30 122.70,728 120,730.70 117.30,728" fill="#111" stroke="#111" stroke-width="0.4"/>
<polygon points="144.5,726.60 147.20,729.3 144.5,732.00 141.80,729.3" fill="#111" stroke="#111" stroke-width="0.4"/>
<polygon points="170,730.30 172.70,733 170,735.70 167.30,733" fill="#111" stroke="#111" stroke-width="0.4"/>
<line x1="262.5" y1="692" x2="262.5" y2="776.2" stroke="#111" stroke-width="1.4"/>
<line x1="260.0" y1="776.20" x2="262.5" y2="776.20" stroke="#111" stroke-width="0.9"/>
<text xml:space="preserve" x="0" y="0" font-size="9" font-weight="normal" text-anchor="end" fill="#111" stroke="#111" stroke-width="0.2" transform="translate(260.5 779.5) scale(1 1.1)">0</text>
<line x1="260.0" y1="759.36" x2="262.5" y2="759.36" stroke="#111" stroke-width="0.9"/>
<text xml:space="preserve" x="0" y="0" font-size="9" font-weight="normal" text-anchor="end" fill="#111" stroke="#111" stroke-width="0.2" transform="translate(260.5 762.66) scale(1 1.1)">500</text>
<line x1="260.0" y1="742.52" x2="262.5" y2="742.52" stroke="#111" stroke-width="0.9"/>
<text xml:space="preserve" x="0" y="0" font-size="9" font-weight="normal" text-anchor="end" fill="#111" stroke="#111" stroke-width="0.2" transform="translate(260.5 745.82) scale(1 1.1)">1000</text>
<line x1="260.0" y1="725.68" x2="262.5" y2="725.68" stroke="#111" stroke-width="0.9"/>
<text xml:space="preserve" x="0" y="0" font-size="9" font-weight="normal" text-anchor="end" fill="#111" stroke="#111" stroke-width="0.2" transform="translate(260.5 728.98) scale(1 1.1)">1500</text>
<line x1="260.0" y1="708.84" x2="262.5" y2="708.84" stroke="#111" stroke-width="0.9"/>
<text xml:space="preserve" x="0" y="0" font-size="9" font-weight="normal" text-anchor="end" fill="#111" stroke="#111" stroke-width="0.2" transform="translate(260.5 712.14) scale(1 1.1)">2000</text>
<line x1="260.0" y1="692.00" x2="262.5" y2="692.00" stroke="#111" stroke-width="0.9"/>
<text xml:space="preserve" x="0" y="0" font-size="9" font-weight="normal" text-anchor="end" fill="#111" stroke="#111" stroke-width="0.2" transform="translate(260.5 695.3) scale(1 1.1)">2500</text>
<line x1="261.9" y1="776.2" x2="412" y2="776.2" stroke="#111" stroke-width="1.4"/>
<line x1="287.5" y1="776.2" x2="287.5" y2="778.4000000000001" stroke="#111" stroke-width="0.9"/>
<line x1="312.5" y1="776.2" x2="312.5" y2="778.4000000000001" stroke="#111" stroke-width="0.9"/>
<line x1="337.5" y1="776.2" x2="337.5" y2="778.4000000000001" stroke="#111" stroke-width="0.9"/>
<line x1="362.5" y1="776.2" x2="362.5" y2="778.4000000000001" stroke="#111" stroke-width="0.9"/>
<line x1="387.5" y1="776.2" x2="387.5" y2="778.4000000000001" stroke="#111" stroke-width="0.9"/>
<line x1="411.5" y1="776.2" x2="411.5" y2="778.4000000000001" stroke="#111" stroke-width="0.9"/>
<text xml:space="preserve" x="234.3" y="738" font-size="8" font-weight="bold" text-anchor="middle" fill="#111" stroke="#111" stroke-width="0.4" transform="rotate(-90 234.3 738)">MFI of PD-1</text>
<path d="M275.8 749.5 L275.8 766.8 M274.0 749.5 L277.6 749.5 M274.0 766.8 L277.6 766.8" stroke="#111" stroke-width="1" fill="none"/>
<path d="M300 755 L300 767.5 M298.2 755 L301.8 755 M298.2 767.5 L301.8 767.5" stroke="#111" stroke-width="1" fill="none"/>
<path d="M325 751 L325 762.5 M323.2 751 L326.8 751 M323.2 762.5 L326.8 762.5" stroke="#111" stroke-width="1" fill="none"/>
<path d="M349.8 752.5 L349.8 763.3 M348.0 752.5 L351.6 752.5 M348.0 763.3 L351.6 763.3" stroke="#111" stroke-width="1" fill="none"/>
<path d="M374.5 751 L374.5 765 M372.7 751 L376.3 751 M372.7 765 L376.3 765" stroke="#111" stroke-width="1" fill="none"/>
<path d="M399.5 755 L399.5 765 M397.7 755 L401.3 755 M397.7 765 L401.3 765" stroke="#111" stroke-width="1" fill="none"/>
<path d="M325 736 L325 754 M323.2 736 L326.8 736 M323.2 754 L326.8 754" stroke="#111" stroke-width="1" fill="none"/>
<path d="M349.8 722 L349.8 748.8 M348.0 722 L351.6 722 M348.0 748.8 L351.6 748.8" stroke="#111" stroke-width="1" fill="none"/>
<path d="M374.5 743.8 L374.5 755 M372.7 743.8 L376.3 743.8 M372.7 755 L376.3 755" stroke="#111" stroke-width="1" fill="none"/>
<path d="M399.5 756 L399.5 763 M397.7 756 L401.3 756 M397.7 763 L401.3 763" stroke="#111" stroke-width="1" fill="none"/>
<path d="M325 733 L325 752 M323.2 733 L326.8 733 M323.2 752 L326.8 752" stroke="#111" stroke-width="1" fill="none"/>
<path d="M349.8 710 L349.8 730 M348.0 710 L351.6 710 M348.0 730 L351.6 730" stroke="#111" stroke-width="1" fill="none"/>
<path d="M374.5 690 L374.5 723 M372.7 690 L376.3 690 M372.7 723 L376.3 723" stroke="#111" stroke-width="1" fill="none"/>
<path d="M399.5 698.3 L399.5 738 M397.7 698.3 L401.3 698.3 M397.7 738 L401.3 738" stroke="#111" stroke-width="1" fill="none"/>
<path d="M275.8 758.3 L300 760.8 L325 756.5 L349.8 757.3 L374.5 757.5 L399.5 760" fill="none" stroke="#111" stroke-width="1.25" stroke-dasharray="12.5 5 2.5 5" stroke-dashoffset="6.25"/>
<path d="M325 745 L349.8 735.8 L374.5 750.8 L399.5 759.5" fill="none" stroke="#111" stroke-width="1.25" stroke-dasharray="6.5 3.5"/>
<path d="M325 742.5 L349.8 720 L374.5 706.3 L399.5 718" fill="none" stroke="#111" stroke-width="1.25"/>
<polygon points="325,739.40 327.90,744.60 322.10,744.60" fill="#fff" stroke="#111" stroke-width="1.1"/>
<polygon points="349.8,716.90 352.70,722.10 346.90,722.10" fill="#fff" stroke="#111" stroke-width="1.1"/>
<polygon points="374.5,703.20 377.40,708.40 371.60,708.40" fill="#fff" stroke="#111" stroke-width="1.1"/>
<polygon points="399.5,714.90 402.40,720.10 396.60,720.10" fill="#fff" stroke="#111" stroke-width="1.1"/>
<rect x="322.90" y="742.90" width="4.2" height="4.2" fill="#fff" stroke="#111" stroke-width="1.1"/>
<rect x="347.70" y="733.70" width="4.2" height="4.2" fill="#fff" stroke="#111" stroke-width="1.1"/>
<rect x="372.40" y="748.70" width="4.2" height="4.2" fill="#fff" stroke="#111" stroke-width="1.1"/>
<rect x="397.40" y="757.40" width="4.2" height="4.2" fill="#fff" stroke="#111" stroke-width="1.1"/>
<polygon points="275.8,755.60 278.50,758.3 275.8,761.00 273.10,758.3" fill="#111" stroke="#111" stroke-width="0.4"/>
<polygon points="300,758.10 302.70,760.8 300,763.50 297.30,760.8" fill="#111" stroke="#111" stroke-width="0.4"/>
<polygon points="325,753.80 327.70,756.5 325,759.20 322.30,756.5" fill="#111" stroke="#111" stroke-width="0.4"/>
<polygon points="349.8,754.60 352.50,757.3 349.8,760.00 347.10,757.3" fill="#111" stroke="#111" stroke-width="0.4"/>
<polygon points="374.5,754.80 377.20,757.5 374.5,760.20 371.80,757.5" fill="#111" stroke="#111" stroke-width="0.4"/>
<polygon points="399.5,757.30 402.20,760 399.5,762.70 396.80,760" fill="#111" stroke="#111" stroke-width="0.4"/>
<text xml:space="preserve" x="0" y="0" font-size="10" font-weight="bold" text-anchor="start" fill="#111" stroke="#111" stroke-width="0.4" transform="translate(26 795) scale(1 0.94)" textLength="17.8" lengthAdjust="spacingAndGlyphs">-2w</text>
<text xml:space="preserve" x="0" y="0" font-size="10" font-weight="bold" text-anchor="start" fill="#111" stroke="#111" stroke-width="0.4" transform="translate(50 795) scale(1 0.94)" textLength="23.8" lengthAdjust="spacingAndGlyphs">Day0</text>
<text xml:space="preserve" x="0" y="0" font-size="10" font-weight="bold" text-anchor="start" fill="#111" stroke="#111" stroke-width="0.4" transform="translate(80.5 795) scale(1 0.94)" textLength="13.3" lengthAdjust="spacingAndGlyphs">2w</text>
<text xml:space="preserve" x="0" y="0" font-size="10" font-weight="bold" text-anchor="start" fill="#111" stroke="#111" stroke-width="0.4" transform="translate(105 795) scale(1 0.94)" textLength="13.5" lengthAdjust="spacingAndGlyphs">4w</text>
<text xml:space="preserve" x="0" y="0" font-size="10" font-weight="bold" text-anchor="start" fill="#111" stroke="#111" stroke-width="0.4" transform="translate(130 795) scale(1 0.94)" textLength="13.8" lengthAdjust="spacingAndGlyphs">8w</text>
<text xml:space="preserve" x="0" y="0" font-size="10" font-weight="bold" text-anchor="start" fill="#111" stroke="#111" stroke-width="0.4" transform="translate(153.8 795) scale(1 0.94)" textLength="19.2" lengthAdjust="spacingAndGlyphs">12w</text>
<text xml:space="preserve" x="0" y="0" font-size="10" font-weight="bold" text-anchor="start" fill="#111" stroke="#111" stroke-width="0.4" transform="translate(170 808) scale(1 0.94)" textLength="12.5" lengthAdjust="spacingAndGlyphs">p.i.</text>
<text xml:space="preserve" x="0" y="0" font-size="10" font-weight="bold" text-anchor="start" fill="#111" stroke="#111" stroke-width="0.4" transform="translate(270 795) scale(1 0.94)" textLength="16.3" lengthAdjust="spacingAndGlyphs">-2w</text>
<text xml:space="preserve" x="0" y="0" font-size="10" font-weight="bold" text-anchor="start" fill="#111" stroke="#111" stroke-width="0.4" transform="translate(292.5 795) scale(1 0.94)" textLength="23.0" lengthAdjust="spacingAndGlyphs">Day0</text>
<text xml:space="preserve" x="0" y="0" font-size="10" font-weight="bold" text-anchor="start" fill="#111" stroke="#111" stroke-width="0.4" transform="translate(323 795) scale(1 0.94)" textLength="12.5" lengthAdjust="spacingAndGlyphs">2w</text>
<text xml:space="preserve" x="0" y="0" font-size="10" font-weight="bold" text-anchor="start" fill="#111" stroke="#111" stroke-width="0.4" transform="translate(348 795) scale(1 0.94)" textLength="13.3" lengthAdjust="spacingAndGlyphs">4w</text>
<text xml:space="preserve" x="0" y="0" font-size="10" font-weight="bold" text-anchor="start" fill="#111" stroke="#111" stroke-width="0.4" transform="translate(372.5 795) scale(1 0.94)" textLength="13.8" lengthAdjust="spacingAndGlyphs">8w</text>
<text xml:space="preserve" x="0" y="0" font-size="10" font-weight="bold" text-anchor="start" fill="#111" stroke="#111" stroke-width="0.4" transform="translate(396.3 795) scale(1 0.94)" textLength="18.7" lengthAdjust="spacingAndGlyphs">12w</text>
<text xml:space="preserve" x="0" y="0" font-size="10" font-weight="bold" text-anchor="start" fill="#111" stroke="#111" stroke-width="0.4" transform="translate(417.5 807.5) scale(1 0.94)" textLength="13.5" lengthAdjust="spacingAndGlyphs">p.i.</text>
</svg></body></html>
